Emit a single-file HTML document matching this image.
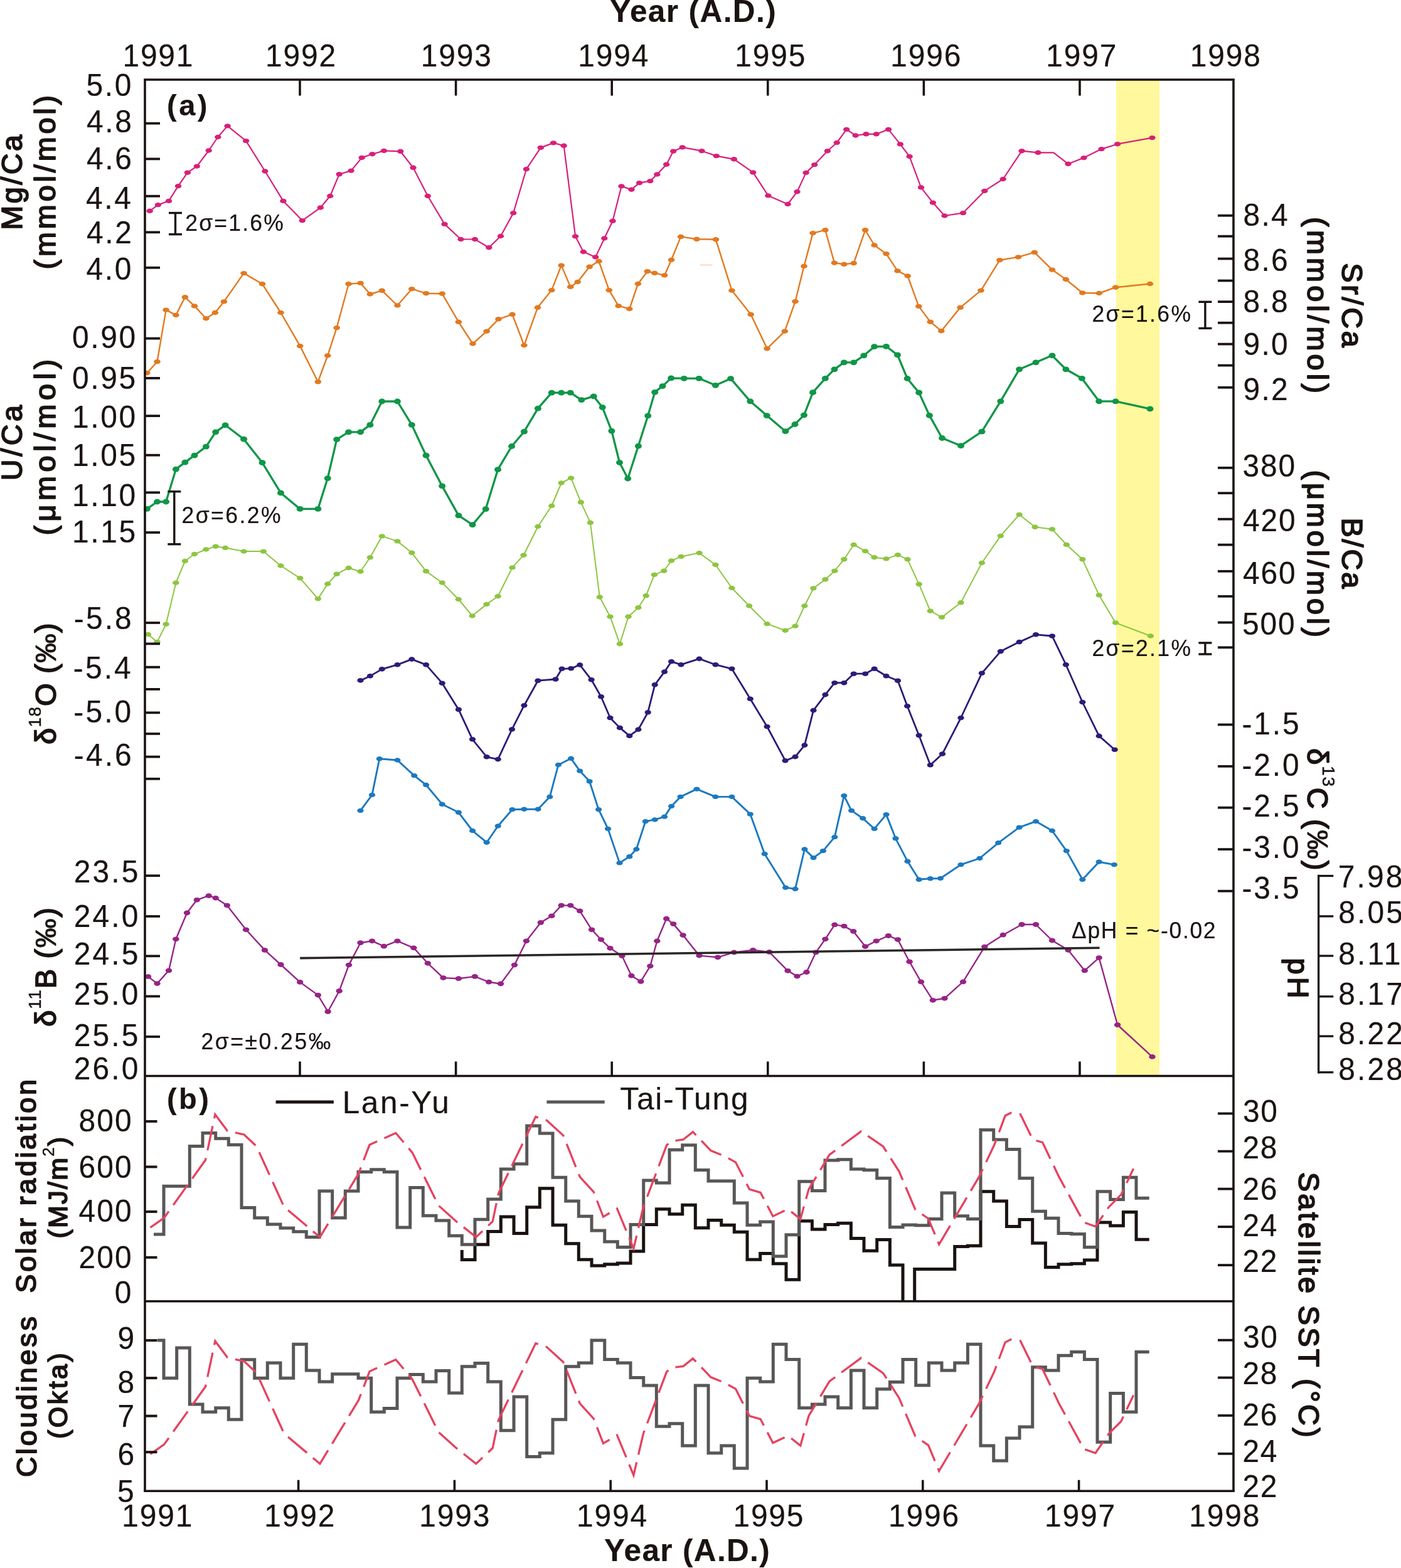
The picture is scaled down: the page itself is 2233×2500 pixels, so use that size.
<!DOCTYPE html>
<html lang="en"><head><meta charset="utf-8"><title>Coral geochemical records and climate data, 1991-1998</title>
<style>html,body{margin:0;padding:0;background:#fff}body{width:2233px;height:2500px;overflow:hidden}svg{display:block}text{font-family:"Liberation Sans",sans-serif;white-space:pre}</style>
</head><body>
<svg width="2233" height="2500" viewBox="0 0 2233 2500" role="img" aria-label="Coral geochemical proxies and climate records 1991-1998">
<rect x="0" y="0" width="2233" height="2500" fill="#fff"/>
<rect x="1779" y="127" width="69" height="1588.5" fill="#fff89c"/>
<g id="series" fill="none" stroke-linejoin="round" stroke-linecap="round">
<line x1="1116" y1="422.6" x2="1135" y2="422.6" stroke="#f6cdb0" stroke-width="1.5"/>
<polyline points="238.7,336.3 251.9,326.6 269,320.4 284,296.7 298.9,275.2 313.8,265.1 332.7,240 347.3,218.5 362.6,200.9 392.1,224.6 422.4,273 451.4,320.4 481.8,351.6 510.8,331 526.2,312.5 540.7,277.8 559.6,272.1 576.7,251.4 593.4,245.7 611.9,240.4 638.2,241.3 658.5,267.3 681.8,312.5 708.6,357.4 734.5,381.5 756.9,381.5 779.3,394.7 798,376.5 818.2,339.6 838.9,269.7 861.8,235.4 882,227.9 898.7,232.3 917.1,376.9 929.9,401.5 949.2,409.9 963.3,380 976.5,352.3 990.5,296.9 1006.4,302.2 1019.1,291.6 1036.3,288.6 1047.3,278 1062.2,262.2 1073.2,241.1 1087.7,234.9 1118.5,240.7 1141.8,248.6 1169.9,253.8 1200.2,274.9 1224.4,311.9 1255.6,325.5 1270.5,305.7 1284.6,275.4 1298.2,262.6 1318.9,240.7 1333.8,227.5 1349.2,206.4 1363.7,216 1380.4,213.8 1396.7,213.8 1416,206.4 1434.9,229.9 1449.6,249.5 1468,298.9 1486.9,323.1 1505.5,344 1535,339.6 1569.3,304.4 1598.7,285.5 1628.6,240.7 1654.5,243.3 1679.2,243.3 1702.5,261.3 1727.5,251.6 1755.6,237.6 1781.1,229.7 1836.5,219.6" stroke="#d81f7a" stroke-width="2.2"/>
<g fill="#d81f7a" stroke="none">
<ellipse cx="238.7" cy="336.3" rx="5.2" ry="3.7"/>
<ellipse cx="251.9" cy="326.6" rx="5.2" ry="3.7"/>
<ellipse cx="269" cy="320.4" rx="5.2" ry="3.7"/>
<ellipse cx="284" cy="296.7" rx="5.2" ry="3.7"/>
<ellipse cx="298.9" cy="275.2" rx="5.2" ry="3.7"/>
<ellipse cx="313.8" cy="265.1" rx="5.2" ry="3.7"/>
<ellipse cx="332.7" cy="240" rx="5.2" ry="3.7"/>
<ellipse cx="347.3" cy="218.5" rx="5.2" ry="3.7"/>
<ellipse cx="362.6" cy="200.9" rx="5.2" ry="3.7"/>
<ellipse cx="392.1" cy="224.6" rx="5.2" ry="3.7"/>
<ellipse cx="422.4" cy="273" rx="5.2" ry="3.7"/>
<ellipse cx="451.4" cy="320.4" rx="5.2" ry="3.7"/>
<ellipse cx="481.8" cy="351.6" rx="5.2" ry="3.7"/>
<ellipse cx="510.8" cy="331" rx="5.2" ry="3.7"/>
<ellipse cx="526.2" cy="312.5" rx="5.2" ry="3.7"/>
<ellipse cx="540.7" cy="277.8" rx="5.2" ry="3.7"/>
<ellipse cx="559.6" cy="272.1" rx="5.2" ry="3.7"/>
<ellipse cx="576.7" cy="251.4" rx="5.2" ry="3.7"/>
<ellipse cx="593.4" cy="245.7" rx="5.2" ry="3.7"/>
<ellipse cx="611.9" cy="240.4" rx="5.2" ry="3.7"/>
<ellipse cx="638.2" cy="241.3" rx="5.2" ry="3.7"/>
<ellipse cx="658.5" cy="267.3" rx="5.2" ry="3.7"/>
<ellipse cx="681.8" cy="312.5" rx="5.2" ry="3.7"/>
<ellipse cx="708.6" cy="357.4" rx="5.2" ry="3.7"/>
<ellipse cx="734.5" cy="381.5" rx="5.2" ry="3.7"/>
<ellipse cx="756.9" cy="381.5" rx="5.2" ry="3.7"/>
<ellipse cx="779.3" cy="394.7" rx="5.2" ry="3.7"/>
<ellipse cx="798" cy="376.5" rx="5.2" ry="3.7"/>
<ellipse cx="818.2" cy="339.6" rx="5.2" ry="3.7"/>
<ellipse cx="838.9" cy="269.7" rx="5.2" ry="3.7"/>
<ellipse cx="861.8" cy="235.4" rx="5.2" ry="3.7"/>
<ellipse cx="882" cy="227.9" rx="5.2" ry="3.7"/>
<ellipse cx="898.7" cy="232.3" rx="5.2" ry="3.7"/>
<ellipse cx="917.1" cy="376.9" rx="5.2" ry="3.7"/>
<ellipse cx="929.9" cy="401.5" rx="5.2" ry="3.7"/>
<ellipse cx="949.2" cy="409.9" rx="5.2" ry="3.7"/>
<ellipse cx="963.3" cy="380" rx="5.2" ry="3.7"/>
<ellipse cx="976.5" cy="352.3" rx="5.2" ry="3.7"/>
<ellipse cx="990.5" cy="296.9" rx="5.2" ry="3.7"/>
<ellipse cx="1006.4" cy="302.2" rx="5.2" ry="3.7"/>
<ellipse cx="1019.1" cy="291.6" rx="5.2" ry="3.7"/>
<ellipse cx="1036.3" cy="288.6" rx="5.2" ry="3.7"/>
<ellipse cx="1047.3" cy="278" rx="5.2" ry="3.7"/>
<ellipse cx="1062.2" cy="262.2" rx="5.2" ry="3.7"/>
<ellipse cx="1073.2" cy="241.1" rx="5.2" ry="3.7"/>
<ellipse cx="1087.7" cy="234.9" rx="5.2" ry="3.7"/>
<ellipse cx="1118.5" cy="240.7" rx="5.2" ry="3.7"/>
<ellipse cx="1141.8" cy="248.6" rx="5.2" ry="3.7"/>
<ellipse cx="1169.9" cy="253.8" rx="5.2" ry="3.7"/>
<ellipse cx="1200.2" cy="274.9" rx="5.2" ry="3.7"/>
<ellipse cx="1224.4" cy="311.9" rx="5.2" ry="3.7"/>
<ellipse cx="1255.6" cy="325.5" rx="5.2" ry="3.7"/>
<ellipse cx="1270.5" cy="305.7" rx="5.2" ry="3.7"/>
<ellipse cx="1284.6" cy="275.4" rx="5.2" ry="3.7"/>
<ellipse cx="1298.2" cy="262.6" rx="5.2" ry="3.7"/>
<ellipse cx="1318.9" cy="240.7" rx="5.2" ry="3.7"/>
<ellipse cx="1333.8" cy="227.5" rx="5.2" ry="3.7"/>
<ellipse cx="1349.2" cy="206.4" rx="5.2" ry="3.7"/>
<ellipse cx="1363.7" cy="216" rx="5.2" ry="3.7"/>
<ellipse cx="1380.4" cy="213.8" rx="5.2" ry="3.7"/>
<ellipse cx="1396.7" cy="213.8" rx="5.2" ry="3.7"/>
<ellipse cx="1416" cy="206.4" rx="5.2" ry="3.7"/>
<ellipse cx="1434.9" cy="229.9" rx="5.2" ry="3.7"/>
<ellipse cx="1449.6" cy="249.5" rx="5.2" ry="3.7"/>
<ellipse cx="1468" cy="298.9" rx="5.2" ry="3.7"/>
<ellipse cx="1486.9" cy="323.1" rx="5.2" ry="3.7"/>
<ellipse cx="1505.5" cy="344" rx="5.2" ry="3.7"/>
<ellipse cx="1535" cy="339.6" rx="5.2" ry="3.7"/>
<ellipse cx="1569.3" cy="304.4" rx="5.2" ry="3.7"/>
<ellipse cx="1598.7" cy="285.5" rx="5.2" ry="3.7"/>
<ellipse cx="1628.6" cy="240.7" rx="5.2" ry="3.7"/>
<ellipse cx="1654.5" cy="243.3" rx="5.2" ry="3.7"/>
<ellipse cx="1702.5" cy="261.3" rx="5.2" ry="3.7"/>
<ellipse cx="1727.5" cy="251.6" rx="5.2" ry="3.7"/>
<ellipse cx="1755.6" cy="237.6" rx="5.2" ry="3.7"/>
<ellipse cx="1781.1" cy="229.7" rx="5.2" ry="3.7"/>
<ellipse cx="1836.5" cy="219.6" rx="5.2" ry="3.7"/>
</g>
<polyline points="234.3,594.7 250.5,576.7 264.6,494.1 280.4,502.4 294.9,473.8 309.9,487.9 328.4,507.7 342.9,498.5 356.9,480.9 388.6,435.6 418,452.7 447.5,498.5 478.2,551.6 506.8,608.8 522.2,567 536.7,522.6 555.6,452.7 574.5,451.4 589.9,469 608.8,463.3 633.4,487 656.3,460.7 679.1,467.7 704.7,468.2 730.9,513.3 753.5,548 775.7,528.2 794.5,508.8 816.5,501.3 835.4,550.5 856.9,490.3 879.3,462.6 894.7,423.1 909.2,457.4 920.7,449.5 939.6,425.3 954.5,416.5 970.8,462.6 985.7,487.7 1003.3,492.5 1016.9,452.5 1031.9,432.7 1043.3,435.4 1059.1,438.9 1070.1,414.3 1085.1,377.4 1110.5,381.3 1140.9,381.8 1166.4,463.1 1196.7,501.3 1222.6,555.8 1250.8,528.1 1267.5,480.7 1281.5,424.4 1295.6,371.6 1315.4,366.8 1329.9,419.1 1345.3,421.3 1360.7,419.6 1379.1,366.8 1393.6,391 1412.5,404.6 1430.5,431.9 1446.7,440 1464.3,488.4 1482.8,513.2 1500.3,527.7 1530.6,490.3 1563.5,463.1 1593.4,414.7 1622.9,409.9 1648.8,402.4 1677,430.1 1698.9,445.5 1725.3,467 1751.7,467.5 1778.1,458.2 1833,452.5" stroke="#e2791f" stroke-width="2.4"/>
<g fill="#e2791f" stroke="none">
<ellipse cx="234.3" cy="594.7" rx="5.3" ry="3.7"/>
<ellipse cx="250.5" cy="576.7" rx="5.3" ry="3.7"/>
<ellipse cx="264.6" cy="494.1" rx="5.3" ry="3.7"/>
<ellipse cx="280.4" cy="502.4" rx="5.3" ry="3.7"/>
<ellipse cx="294.9" cy="473.8" rx="5.3" ry="3.7"/>
<ellipse cx="309.9" cy="487.9" rx="5.3" ry="3.7"/>
<ellipse cx="328.4" cy="507.7" rx="5.3" ry="3.7"/>
<ellipse cx="342.9" cy="498.5" rx="5.3" ry="3.7"/>
<ellipse cx="356.9" cy="480.9" rx="5.3" ry="3.7"/>
<ellipse cx="388.6" cy="435.6" rx="5.3" ry="3.7"/>
<ellipse cx="418" cy="452.7" rx="5.3" ry="3.7"/>
<ellipse cx="447.5" cy="498.5" rx="5.3" ry="3.7"/>
<ellipse cx="478.2" cy="551.6" rx="5.3" ry="3.7"/>
<ellipse cx="506.8" cy="608.8" rx="5.3" ry="3.7"/>
<ellipse cx="522.2" cy="567" rx="5.3" ry="3.7"/>
<ellipse cx="536.7" cy="522.6" rx="5.3" ry="3.7"/>
<ellipse cx="555.6" cy="452.7" rx="5.3" ry="3.7"/>
<ellipse cx="574.5" cy="451.4" rx="5.3" ry="3.7"/>
<ellipse cx="589.9" cy="469" rx="5.3" ry="3.7"/>
<ellipse cx="608.8" cy="463.3" rx="5.3" ry="3.7"/>
<ellipse cx="633.4" cy="487" rx="5.3" ry="3.7"/>
<ellipse cx="656.3" cy="460.7" rx="5.3" ry="3.7"/>
<ellipse cx="679.1" cy="467.7" rx="5.3" ry="3.7"/>
<ellipse cx="704.7" cy="468.2" rx="5.3" ry="3.7"/>
<ellipse cx="730.9" cy="513.3" rx="5.3" ry="3.7"/>
<ellipse cx="753.5" cy="548" rx="5.3" ry="3.7"/>
<ellipse cx="775.7" cy="528.2" rx="5.3" ry="3.7"/>
<ellipse cx="794.5" cy="508.8" rx="5.3" ry="3.7"/>
<ellipse cx="816.5" cy="501.3" rx="5.3" ry="3.7"/>
<ellipse cx="835.4" cy="550.5" rx="5.3" ry="3.7"/>
<ellipse cx="856.9" cy="490.3" rx="5.3" ry="3.7"/>
<ellipse cx="879.3" cy="462.6" rx="5.3" ry="3.7"/>
<ellipse cx="894.7" cy="423.1" rx="5.3" ry="3.7"/>
<ellipse cx="909.2" cy="457.4" rx="5.3" ry="3.7"/>
<ellipse cx="920.7" cy="449.5" rx="5.3" ry="3.7"/>
<ellipse cx="939.6" cy="425.3" rx="5.3" ry="3.7"/>
<ellipse cx="954.5" cy="416.5" rx="5.3" ry="3.7"/>
<ellipse cx="970.8" cy="462.6" rx="5.3" ry="3.7"/>
<ellipse cx="985.7" cy="487.7" rx="5.3" ry="3.7"/>
<ellipse cx="1003.3" cy="492.5" rx="5.3" ry="3.7"/>
<ellipse cx="1016.9" cy="452.5" rx="5.3" ry="3.7"/>
<ellipse cx="1031.9" cy="432.7" rx="5.3" ry="3.7"/>
<ellipse cx="1043.3" cy="435.4" rx="5.3" ry="3.7"/>
<ellipse cx="1059.1" cy="438.9" rx="5.3" ry="3.7"/>
<ellipse cx="1070.1" cy="414.3" rx="5.3" ry="3.7"/>
<ellipse cx="1085.1" cy="377.4" rx="5.3" ry="3.7"/>
<ellipse cx="1110.5" cy="381.3" rx="5.3" ry="3.7"/>
<ellipse cx="1140.9" cy="381.8" rx="5.3" ry="3.7"/>
<ellipse cx="1166.4" cy="463.1" rx="5.3" ry="3.7"/>
<ellipse cx="1196.7" cy="501.3" rx="5.3" ry="3.7"/>
<ellipse cx="1222.6" cy="555.8" rx="5.3" ry="3.7"/>
<ellipse cx="1250.8" cy="528.1" rx="5.3" ry="3.7"/>
<ellipse cx="1267.5" cy="480.7" rx="5.3" ry="3.7"/>
<ellipse cx="1281.5" cy="424.4" rx="5.3" ry="3.7"/>
<ellipse cx="1295.6" cy="371.6" rx="5.3" ry="3.7"/>
<ellipse cx="1315.4" cy="366.8" rx="5.3" ry="3.7"/>
<ellipse cx="1329.9" cy="419.1" rx="5.3" ry="3.7"/>
<ellipse cx="1345.3" cy="421.3" rx="5.3" ry="3.7"/>
<ellipse cx="1360.7" cy="419.6" rx="5.3" ry="3.7"/>
<ellipse cx="1379.1" cy="366.8" rx="5.3" ry="3.7"/>
<ellipse cx="1393.6" cy="391" rx="5.3" ry="3.7"/>
<ellipse cx="1412.5" cy="404.6" rx="5.3" ry="3.7"/>
<ellipse cx="1430.5" cy="431.9" rx="5.3" ry="3.7"/>
<ellipse cx="1446.7" cy="440" rx="5.3" ry="3.7"/>
<ellipse cx="1464.3" cy="488.4" rx="5.3" ry="3.7"/>
<ellipse cx="1482.8" cy="513.2" rx="5.3" ry="3.7"/>
<ellipse cx="1500.3" cy="527.7" rx="5.3" ry="3.7"/>
<ellipse cx="1530.6" cy="490.3" rx="5.3" ry="3.7"/>
<ellipse cx="1563.5" cy="463.1" rx="5.3" ry="3.7"/>
<ellipse cx="1593.4" cy="414.7" rx="5.3" ry="3.7"/>
<ellipse cx="1622.9" cy="409.9" rx="5.3" ry="3.7"/>
<ellipse cx="1648.8" cy="402.4" rx="5.3" ry="3.7"/>
<ellipse cx="1677" cy="430.1" rx="5.3" ry="3.7"/>
<ellipse cx="1698.9" cy="445.5" rx="5.3" ry="3.7"/>
<ellipse cx="1725.3" cy="467" rx="5.3" ry="3.7"/>
<ellipse cx="1751.7" cy="467.5" rx="5.3" ry="3.7"/>
<ellipse cx="1778.1" cy="458.2" rx="5.3" ry="3.7"/>
<ellipse cx="1833" cy="452.5" rx="5.3" ry="3.7"/>
</g>
<polyline points="234.3,811.4 250.5,800 264.6,800 280.4,748.1 294.9,737.1 309.9,726.2 328.4,712.1 343.7,688.8 359.1,677.8 388.6,700.2 418,737.6 447.5,785.9 478.2,811.4 506.8,811.4 522.2,762.6 536.7,700.7 555.6,688.8 574.5,688.8 589.9,677.4 608.8,640 633.4,640 656.3,677.4 679.1,726.2 704.7,774.9 730.9,821.9 753.1,836.6 774.2,811.6 793.5,748.7 815.6,711.5 835.4,688.2 857.4,651.2 879.3,626.2 894.7,626.2 909.2,626.2 926.8,637.6 946.2,631.9 960.2,649.5 974.9,687.1 987.5,737.5 1000.7,763 1017.4,711.1 1032.7,662.9 1043.7,625.3 1056,615.6 1069.7,602.9 1090.3,603.3 1114.1,603.3 1140.4,614.3 1164.6,603.7 1195.8,639.8 1222.2,662.6 1251.9,687.7 1267,676.5 1281.5,661.8 1295.6,625.7 1315.4,603.3 1329.9,588.8 1345.3,577.8 1360.7,577.8 1376.9,566.8 1393.6,552.7 1412.5,552.3 1430.5,565.9 1446.1,603.5 1464.7,625.9 1481.4,662.4 1501.6,698.5 1531.5,710.7 1564.9,688.2 1594.8,639.8 1624.6,588.8 1651,577.8 1677,566.8 1698.9,588.8 1724.4,603.3 1751.7,639.8 1778.1,639.8 1833,651.9" stroke="#0f9647" stroke-width="3.3"/>
<g fill="#0f9647" stroke="none">
<ellipse cx="234.3" cy="811.4" rx="5.5" ry="4.4"/>
<ellipse cx="250.5" cy="800" rx="5.5" ry="4.4"/>
<ellipse cx="264.6" cy="800" rx="5.5" ry="4.4"/>
<ellipse cx="280.4" cy="748.1" rx="5.5" ry="4.4"/>
<ellipse cx="294.9" cy="737.1" rx="5.5" ry="4.4"/>
<ellipse cx="309.9" cy="726.2" rx="5.5" ry="4.4"/>
<ellipse cx="328.4" cy="712.1" rx="5.5" ry="4.4"/>
<ellipse cx="343.7" cy="688.8" rx="5.5" ry="4.4"/>
<ellipse cx="359.1" cy="677.8" rx="5.5" ry="4.4"/>
<ellipse cx="388.6" cy="700.2" rx="5.5" ry="4.4"/>
<ellipse cx="418" cy="737.6" rx="5.5" ry="4.4"/>
<ellipse cx="447.5" cy="785.9" rx="5.5" ry="4.4"/>
<ellipse cx="478.2" cy="811.4" rx="5.5" ry="4.4"/>
<ellipse cx="506.8" cy="811.4" rx="5.5" ry="4.4"/>
<ellipse cx="522.2" cy="762.6" rx="5.5" ry="4.4"/>
<ellipse cx="536.7" cy="700.7" rx="5.5" ry="4.4"/>
<ellipse cx="555.6" cy="688.8" rx="5.5" ry="4.4"/>
<ellipse cx="574.5" cy="688.8" rx="5.5" ry="4.4"/>
<ellipse cx="589.9" cy="677.4" rx="5.5" ry="4.4"/>
<ellipse cx="608.8" cy="640" rx="5.5" ry="4.4"/>
<ellipse cx="633.4" cy="640" rx="5.5" ry="4.4"/>
<ellipse cx="656.3" cy="677.4" rx="5.5" ry="4.4"/>
<ellipse cx="679.1" cy="726.2" rx="5.5" ry="4.4"/>
<ellipse cx="704.7" cy="774.9" rx="5.5" ry="4.4"/>
<ellipse cx="730.9" cy="821.9" rx="5.5" ry="4.4"/>
<ellipse cx="753.1" cy="836.6" rx="5.5" ry="4.4"/>
<ellipse cx="774.2" cy="811.6" rx="5.5" ry="4.4"/>
<ellipse cx="793.5" cy="748.7" rx="5.5" ry="4.4"/>
<ellipse cx="815.6" cy="711.5" rx="5.5" ry="4.4"/>
<ellipse cx="835.4" cy="688.2" rx="5.5" ry="4.4"/>
<ellipse cx="857.4" cy="651.2" rx="5.5" ry="4.4"/>
<ellipse cx="879.3" cy="626.2" rx="5.5" ry="4.4"/>
<ellipse cx="894.7" cy="626.2" rx="5.5" ry="4.4"/>
<ellipse cx="909.2" cy="626.2" rx="5.5" ry="4.4"/>
<ellipse cx="926.8" cy="637.6" rx="5.5" ry="4.4"/>
<ellipse cx="946.2" cy="631.9" rx="5.5" ry="4.4"/>
<ellipse cx="960.2" cy="649.5" rx="5.5" ry="4.4"/>
<ellipse cx="974.9" cy="687.1" rx="5.5" ry="4.4"/>
<ellipse cx="987.5" cy="737.5" rx="5.5" ry="4.4"/>
<ellipse cx="1000.7" cy="763" rx="5.5" ry="4.4"/>
<ellipse cx="1017.4" cy="711.1" rx="5.5" ry="4.4"/>
<ellipse cx="1032.7" cy="662.9" rx="5.5" ry="4.4"/>
<ellipse cx="1043.7" cy="625.3" rx="5.5" ry="4.4"/>
<ellipse cx="1056" cy="615.6" rx="5.5" ry="4.4"/>
<ellipse cx="1069.7" cy="602.9" rx="5.5" ry="4.4"/>
<ellipse cx="1090.3" cy="603.3" rx="5.5" ry="4.4"/>
<ellipse cx="1114.1" cy="603.3" rx="5.5" ry="4.4"/>
<ellipse cx="1140.4" cy="614.3" rx="5.5" ry="4.4"/>
<ellipse cx="1164.6" cy="603.7" rx="5.5" ry="4.4"/>
<ellipse cx="1195.8" cy="639.8" rx="5.5" ry="4.4"/>
<ellipse cx="1222.2" cy="662.6" rx="5.5" ry="4.4"/>
<ellipse cx="1251.9" cy="687.7" rx="5.5" ry="4.4"/>
<ellipse cx="1267" cy="676.5" rx="5.5" ry="4.4"/>
<ellipse cx="1281.5" cy="661.8" rx="5.5" ry="4.4"/>
<ellipse cx="1295.6" cy="625.7" rx="5.5" ry="4.4"/>
<ellipse cx="1315.4" cy="603.3" rx="5.5" ry="4.4"/>
<ellipse cx="1329.9" cy="588.8" rx="5.5" ry="4.4"/>
<ellipse cx="1345.3" cy="577.8" rx="5.5" ry="4.4"/>
<ellipse cx="1360.7" cy="577.8" rx="5.5" ry="4.4"/>
<ellipse cx="1376.9" cy="566.8" rx="5.5" ry="4.4"/>
<ellipse cx="1393.6" cy="552.7" rx="5.5" ry="4.4"/>
<ellipse cx="1412.5" cy="552.3" rx="5.5" ry="4.4"/>
<ellipse cx="1430.5" cy="565.9" rx="5.5" ry="4.4"/>
<ellipse cx="1446.1" cy="603.5" rx="5.5" ry="4.4"/>
<ellipse cx="1464.7" cy="625.9" rx="5.5" ry="4.4"/>
<ellipse cx="1481.4" cy="662.4" rx="5.5" ry="4.4"/>
<ellipse cx="1501.6" cy="698.5" rx="5.5" ry="4.4"/>
<ellipse cx="1531.5" cy="710.7" rx="5.5" ry="4.4"/>
<ellipse cx="1564.9" cy="688.2" rx="5.5" ry="4.4"/>
<ellipse cx="1594.8" cy="639.8" rx="5.5" ry="4.4"/>
<ellipse cx="1624.6" cy="588.8" rx="5.5" ry="4.4"/>
<ellipse cx="1651" cy="577.8" rx="5.5" ry="4.4"/>
<ellipse cx="1677" cy="566.8" rx="5.5" ry="4.4"/>
<ellipse cx="1698.9" cy="588.8" rx="5.5" ry="4.4"/>
<ellipse cx="1724.4" cy="603.3" rx="5.5" ry="4.4"/>
<ellipse cx="1751.7" cy="639.8" rx="5.5" ry="4.4"/>
<ellipse cx="1778.1" cy="639.8" rx="5.5" ry="4.4"/>
<ellipse cx="1833" cy="651.9" rx="5.5" ry="4.4"/>
</g>
<polyline points="236,1011.5 250.5,1023.4 264.6,995.2 280.4,929.2 294.9,894.5 309.9,883.5 328.4,876 343.7,871.2 359.1,873.4 388.6,879.1 419.8,879.1 447.5,902 478.2,921.8 506.8,954.7 522.2,931 536.7,915.2 555.6,905.5 574.5,911.2 589.9,888.8 608.8,854.9 633.4,862.9 656.3,881.3 679.1,910.8 704.7,929 730.8,955.5 752.7,981.9 775.6,963.4 793.6,950.7 816.5,904.9 834.5,885.2 857.4,839.5 879.3,806.5 894.7,770 910.1,762.1 925.9,800.8 940.9,833.3 955.8,952 972.5,983.2 987.9,1026.7 1001.5,983.2 1017.4,968.7 1029.7,949.8 1042.9,916.4 1058.2,910.2 1070.1,894 1085.5,887.4 1114.5,881.6 1140.4,900.5 1166.4,937.5 1194.1,966 1222.6,994.6 1251.6,1005.2 1267.5,998.1 1282.4,966 1296.5,937.9 1315.4,923.8 1330.3,910.2 1345.3,891.8 1360.7,868.5 1379.1,878.6 1393.6,888.7 1412.5,890.9 1431,884.7 1446.5,891.8 1464.7,931.3 1482.8,974.2 1501.1,984.1 1531.5,960.8 1564.9,897.5 1594.8,854.4 1624.6,820.5 1649.7,840.3 1677,843.8 1699.8,868.5 1725.3,891.8 1751.7,948.9 1778.1,992.9 1833.9,1014" stroke="#8cc540" stroke-width="2.0"/>
<g fill="#8cc540" stroke="none">
<ellipse cx="236" cy="1011.5" rx="5.2" ry="3.7"/>
<ellipse cx="250.5" cy="1023.4" rx="5.2" ry="3.7"/>
<ellipse cx="264.6" cy="995.2" rx="5.2" ry="3.7"/>
<ellipse cx="280.4" cy="929.2" rx="5.2" ry="3.7"/>
<ellipse cx="294.9" cy="894.5" rx="5.2" ry="3.7"/>
<ellipse cx="309.9" cy="883.5" rx="5.2" ry="3.7"/>
<ellipse cx="328.4" cy="876" rx="5.2" ry="3.7"/>
<ellipse cx="343.7" cy="871.2" rx="5.2" ry="3.7"/>
<ellipse cx="359.1" cy="873.4" rx="5.2" ry="3.7"/>
<ellipse cx="388.6" cy="879.1" rx="5.2" ry="3.7"/>
<ellipse cx="419.8" cy="879.1" rx="5.2" ry="3.7"/>
<ellipse cx="447.5" cy="902" rx="5.2" ry="3.7"/>
<ellipse cx="478.2" cy="921.8" rx="5.2" ry="3.7"/>
<ellipse cx="506.8" cy="954.7" rx="5.2" ry="3.7"/>
<ellipse cx="522.2" cy="931" rx="5.2" ry="3.7"/>
<ellipse cx="536.7" cy="915.2" rx="5.2" ry="3.7"/>
<ellipse cx="555.6" cy="905.5" rx="5.2" ry="3.7"/>
<ellipse cx="574.5" cy="911.2" rx="5.2" ry="3.7"/>
<ellipse cx="589.9" cy="888.8" rx="5.2" ry="3.7"/>
<ellipse cx="608.8" cy="854.9" rx="5.2" ry="3.7"/>
<ellipse cx="633.4" cy="862.9" rx="5.2" ry="3.7"/>
<ellipse cx="656.3" cy="881.3" rx="5.2" ry="3.7"/>
<ellipse cx="679.1" cy="910.8" rx="5.2" ry="3.7"/>
<ellipse cx="704.7" cy="929" rx="5.2" ry="3.7"/>
<ellipse cx="730.8" cy="955.5" rx="5.2" ry="3.7"/>
<ellipse cx="752.7" cy="981.9" rx="5.2" ry="3.7"/>
<ellipse cx="775.6" cy="963.4" rx="5.2" ry="3.7"/>
<ellipse cx="793.6" cy="950.7" rx="5.2" ry="3.7"/>
<ellipse cx="816.5" cy="904.9" rx="5.2" ry="3.7"/>
<ellipse cx="834.5" cy="885.2" rx="5.2" ry="3.7"/>
<ellipse cx="857.4" cy="839.5" rx="5.2" ry="3.7"/>
<ellipse cx="879.3" cy="806.5" rx="5.2" ry="3.7"/>
<ellipse cx="894.7" cy="770" rx="5.2" ry="3.7"/>
<ellipse cx="910.1" cy="762.1" rx="5.2" ry="3.7"/>
<ellipse cx="925.9" cy="800.8" rx="5.2" ry="3.7"/>
<ellipse cx="940.9" cy="833.3" rx="5.2" ry="3.7"/>
<ellipse cx="955.8" cy="952" rx="5.2" ry="3.7"/>
<ellipse cx="972.5" cy="983.2" rx="5.2" ry="3.7"/>
<ellipse cx="987.9" cy="1026.7" rx="5.2" ry="3.7"/>
<ellipse cx="1001.5" cy="983.2" rx="5.2" ry="3.7"/>
<ellipse cx="1017.4" cy="968.7" rx="5.2" ry="3.7"/>
<ellipse cx="1029.7" cy="949.8" rx="5.2" ry="3.7"/>
<ellipse cx="1042.9" cy="916.4" rx="5.2" ry="3.7"/>
<ellipse cx="1058.2" cy="910.2" rx="5.2" ry="3.7"/>
<ellipse cx="1070.1" cy="894" rx="5.2" ry="3.7"/>
<ellipse cx="1085.5" cy="887.4" rx="5.2" ry="3.7"/>
<ellipse cx="1114.5" cy="881.6" rx="5.2" ry="3.7"/>
<ellipse cx="1140.4" cy="900.5" rx="5.2" ry="3.7"/>
<ellipse cx="1166.4" cy="937.5" rx="5.2" ry="3.7"/>
<ellipse cx="1194.1" cy="966" rx="5.2" ry="3.7"/>
<ellipse cx="1222.6" cy="994.6" rx="5.2" ry="3.7"/>
<ellipse cx="1251.6" cy="1005.2" rx="5.2" ry="3.7"/>
<ellipse cx="1267.5" cy="998.1" rx="5.2" ry="3.7"/>
<ellipse cx="1282.4" cy="966" rx="5.2" ry="3.7"/>
<ellipse cx="1296.5" cy="937.9" rx="5.2" ry="3.7"/>
<ellipse cx="1315.4" cy="923.8" rx="5.2" ry="3.7"/>
<ellipse cx="1330.3" cy="910.2" rx="5.2" ry="3.7"/>
<ellipse cx="1345.3" cy="891.8" rx="5.2" ry="3.7"/>
<ellipse cx="1360.7" cy="868.5" rx="5.2" ry="3.7"/>
<ellipse cx="1379.1" cy="878.6" rx="5.2" ry="3.7"/>
<ellipse cx="1393.6" cy="888.7" rx="5.2" ry="3.7"/>
<ellipse cx="1412.5" cy="890.9" rx="5.2" ry="3.7"/>
<ellipse cx="1431" cy="884.7" rx="5.2" ry="3.7"/>
<ellipse cx="1446.5" cy="891.8" rx="5.2" ry="3.7"/>
<ellipse cx="1464.7" cy="931.3" rx="5.2" ry="3.7"/>
<ellipse cx="1482.8" cy="974.2" rx="5.2" ry="3.7"/>
<ellipse cx="1501.1" cy="984.1" rx="5.2" ry="3.7"/>
<ellipse cx="1531.5" cy="960.8" rx="5.2" ry="3.7"/>
<ellipse cx="1564.9" cy="897.5" rx="5.2" ry="3.7"/>
<ellipse cx="1594.8" cy="854.4" rx="5.2" ry="3.7"/>
<ellipse cx="1624.6" cy="820.5" rx="5.2" ry="3.7"/>
<ellipse cx="1649.7" cy="840.3" rx="5.2" ry="3.7"/>
<ellipse cx="1677" cy="843.8" rx="5.2" ry="3.7"/>
<ellipse cx="1699.8" cy="868.5" rx="5.2" ry="3.7"/>
<ellipse cx="1725.3" cy="891.8" rx="5.2" ry="3.7"/>
<ellipse cx="1751.7" cy="948.9" rx="5.2" ry="3.7"/>
<ellipse cx="1778.1" cy="992.9" rx="5.2" ry="3.7"/>
<ellipse cx="1833.9" cy="1014" rx="5.2" ry="3.7"/>
</g>
<polyline points="574.5,1084.9 589.9,1077.9 608.8,1066.9 633.4,1059.9 656.3,1051.1 679.1,1059.9 704.7,1089.2 730.9,1131.2 753,1178.8 775.7,1206.8 793.7,1210.6 816,1162.9 835.4,1124.7 857.4,1085.2 885.5,1083 895.6,1066.3 910.1,1065.8 924.2,1060.1 942.6,1083.8 958,1110.7 972.5,1144.5 987.9,1160.4 1003.3,1173.2 1017.4,1163.1 1032.7,1135.7 1043.7,1091.8 1059.1,1071.1 1070.1,1054.8 1085.5,1059.7 1114.5,1050.4 1140.4,1059.7 1166.4,1066.3 1195.8,1114.2 1222.6,1158.5 1251.6,1212.7 1267.5,1206.6 1282.4,1188.1 1296.5,1132.6 1315.4,1107.6 1330.3,1088.7 1345.3,1088.7 1360.7,1074.2 1379.1,1074.2 1393.6,1066.3 1412.5,1077.7 1431,1085.2 1446.1,1125.8 1464.7,1172.5 1482.8,1219.8 1502,1202 1531.5,1144.5 1564.9,1073.3 1594.8,1038.6 1624.6,1023.6 1651,1011.8 1677,1014 1698.9,1059.7 1725.3,1119.5 1751.7,1173.4 1776.7,1195.2" stroke="#2d1b78" stroke-width="2.8"/>
<g fill="#2d1b78" stroke="none">
<ellipse cx="574.5" cy="1084.9" rx="5.1" ry="3.8"/>
<ellipse cx="589.9" cy="1077.9" rx="5.1" ry="3.8"/>
<ellipse cx="608.8" cy="1066.9" rx="5.1" ry="3.8"/>
<ellipse cx="633.4" cy="1059.9" rx="5.1" ry="3.8"/>
<ellipse cx="656.3" cy="1051.1" rx="5.1" ry="3.8"/>
<ellipse cx="679.1" cy="1059.9" rx="5.1" ry="3.8"/>
<ellipse cx="704.7" cy="1089.2" rx="5.1" ry="3.8"/>
<ellipse cx="730.9" cy="1131.2" rx="5.1" ry="3.8"/>
<ellipse cx="753" cy="1178.8" rx="5.1" ry="3.8"/>
<ellipse cx="775.7" cy="1206.8" rx="5.1" ry="3.8"/>
<ellipse cx="793.7" cy="1210.6" rx="5.1" ry="3.8"/>
<ellipse cx="816" cy="1162.9" rx="5.1" ry="3.8"/>
<ellipse cx="835.4" cy="1124.7" rx="5.1" ry="3.8"/>
<ellipse cx="857.4" cy="1085.2" rx="5.1" ry="3.8"/>
<ellipse cx="885.5" cy="1083" rx="5.1" ry="3.8"/>
<ellipse cx="895.6" cy="1066.3" rx="5.1" ry="3.8"/>
<ellipse cx="910.1" cy="1065.8" rx="5.1" ry="3.8"/>
<ellipse cx="924.2" cy="1060.1" rx="5.1" ry="3.8"/>
<ellipse cx="942.6" cy="1083.8" rx="5.1" ry="3.8"/>
<ellipse cx="958" cy="1110.7" rx="5.1" ry="3.8"/>
<ellipse cx="972.5" cy="1144.5" rx="5.1" ry="3.8"/>
<ellipse cx="987.9" cy="1160.4" rx="5.1" ry="3.8"/>
<ellipse cx="1003.3" cy="1173.2" rx="5.1" ry="3.8"/>
<ellipse cx="1017.4" cy="1163.1" rx="5.1" ry="3.8"/>
<ellipse cx="1032.7" cy="1135.7" rx="5.1" ry="3.8"/>
<ellipse cx="1043.7" cy="1091.8" rx="5.1" ry="3.8"/>
<ellipse cx="1059.1" cy="1071.1" rx="5.1" ry="3.8"/>
<ellipse cx="1070.1" cy="1054.8" rx="5.1" ry="3.8"/>
<ellipse cx="1085.5" cy="1059.7" rx="5.1" ry="3.8"/>
<ellipse cx="1114.5" cy="1050.4" rx="5.1" ry="3.8"/>
<ellipse cx="1140.4" cy="1059.7" rx="5.1" ry="3.8"/>
<ellipse cx="1166.4" cy="1066.3" rx="5.1" ry="3.8"/>
<ellipse cx="1195.8" cy="1114.2" rx="5.1" ry="3.8"/>
<ellipse cx="1222.6" cy="1158.5" rx="5.1" ry="3.8"/>
<ellipse cx="1251.6" cy="1212.7" rx="5.1" ry="3.8"/>
<ellipse cx="1267.5" cy="1206.6" rx="5.1" ry="3.8"/>
<ellipse cx="1282.4" cy="1188.1" rx="5.1" ry="3.8"/>
<ellipse cx="1296.5" cy="1132.6" rx="5.1" ry="3.8"/>
<ellipse cx="1315.4" cy="1107.6" rx="5.1" ry="3.8"/>
<ellipse cx="1330.3" cy="1088.7" rx="5.1" ry="3.8"/>
<ellipse cx="1345.3" cy="1088.7" rx="5.1" ry="3.8"/>
<ellipse cx="1360.7" cy="1074.2" rx="5.1" ry="3.8"/>
<ellipse cx="1379.1" cy="1074.2" rx="5.1" ry="3.8"/>
<ellipse cx="1393.6" cy="1066.3" rx="5.1" ry="3.8"/>
<ellipse cx="1412.5" cy="1077.7" rx="5.1" ry="3.8"/>
<ellipse cx="1431" cy="1085.2" rx="5.1" ry="3.8"/>
<ellipse cx="1446.1" cy="1125.8" rx="5.1" ry="3.8"/>
<ellipse cx="1464.7" cy="1172.5" rx="5.1" ry="3.8"/>
<ellipse cx="1482.8" cy="1219.8" rx="5.1" ry="3.8"/>
<ellipse cx="1502" cy="1202" rx="5.1" ry="3.8"/>
<ellipse cx="1531.5" cy="1144.5" rx="5.1" ry="3.8"/>
<ellipse cx="1564.9" cy="1073.3" rx="5.1" ry="3.8"/>
<ellipse cx="1594.8" cy="1038.6" rx="5.1" ry="3.8"/>
<ellipse cx="1624.6" cy="1023.6" rx="5.1" ry="3.8"/>
<ellipse cx="1651" cy="1011.8" rx="5.1" ry="3.8"/>
<ellipse cx="1677" cy="1014" rx="5.1" ry="3.8"/>
<ellipse cx="1698.9" cy="1059.7" rx="5.1" ry="3.8"/>
<ellipse cx="1725.3" cy="1119.5" rx="5.1" ry="3.8"/>
<ellipse cx="1751.7" cy="1173.4" rx="5.1" ry="3.8"/>
<ellipse cx="1776.7" cy="1195.2" rx="5.1" ry="3.8"/>
</g>
<polyline points="574.5,1292.4 593,1267.4 604.8,1209.8 633.4,1212 660.2,1236.6 679.1,1251.5 704.7,1282.3 730.9,1295.3 753.1,1324.5 775.7,1343.2 793.7,1317 816.5,1290.7 835.4,1290.2 857.4,1290.2 876.3,1270.4 889.9,1219.5 910.1,1209.3 924.2,1229.1 939.6,1245.8 954.1,1290.7 969,1321.4 987.5,1375.9 1003.3,1365.8 1014.3,1354 1028.8,1309.6 1043.7,1306.9 1059.1,1302.1 1070.1,1285.4 1084.6,1270.4 1110.5,1258.1 1140.4,1270.4 1166.4,1270.4 1195.8,1298.1 1218.7,1361.4 1252.1,1415.1 1267.5,1417.3 1282.4,1354 1296.5,1367.6 1311.9,1356.6 1330.3,1334.6 1345.3,1268.7 1357.1,1292.4 1375.2,1304.7 1393.6,1321.4 1412.5,1298.6 1427.5,1336.8 1446.5,1373.3 1464.7,1402.3 1482.8,1400.8 1498.9,1400.5 1531.5,1378.6 1561.4,1368.5 1591.2,1343.8 1624.6,1319.2 1651,1309.6 1677,1324.5 1699.8,1356.6 1725.3,1402.3 1751.7,1374.2 1775.9,1378.6" stroke="#1b79c0" stroke-width="2.9"/>
<g fill="#1b79c0" stroke="none">
<ellipse cx="574.5" cy="1292.4" rx="5.1" ry="3.7"/>
<ellipse cx="593" cy="1267.4" rx="5.1" ry="3.7"/>
<ellipse cx="604.8" cy="1209.8" rx="5.1" ry="3.7"/>
<ellipse cx="633.4" cy="1212" rx="5.1" ry="3.7"/>
<ellipse cx="660.2" cy="1236.6" rx="5.1" ry="3.7"/>
<ellipse cx="679.1" cy="1251.5" rx="5.1" ry="3.7"/>
<ellipse cx="704.7" cy="1282.3" rx="5.1" ry="3.7"/>
<ellipse cx="730.9" cy="1295.3" rx="5.1" ry="3.7"/>
<ellipse cx="753.1" cy="1324.5" rx="5.1" ry="3.7"/>
<ellipse cx="775.7" cy="1343.2" rx="5.1" ry="3.7"/>
<ellipse cx="793.7" cy="1317" rx="5.1" ry="3.7"/>
<ellipse cx="816.5" cy="1290.7" rx="5.1" ry="3.7"/>
<ellipse cx="835.4" cy="1290.2" rx="5.1" ry="3.7"/>
<ellipse cx="857.4" cy="1290.2" rx="5.1" ry="3.7"/>
<ellipse cx="876.3" cy="1270.4" rx="5.1" ry="3.7"/>
<ellipse cx="889.9" cy="1219.5" rx="5.1" ry="3.7"/>
<ellipse cx="910.1" cy="1209.3" rx="5.1" ry="3.7"/>
<ellipse cx="924.2" cy="1229.1" rx="5.1" ry="3.7"/>
<ellipse cx="939.6" cy="1245.8" rx="5.1" ry="3.7"/>
<ellipse cx="954.1" cy="1290.7" rx="5.1" ry="3.7"/>
<ellipse cx="969" cy="1321.4" rx="5.1" ry="3.7"/>
<ellipse cx="987.5" cy="1375.9" rx="5.1" ry="3.7"/>
<ellipse cx="1003.3" cy="1365.8" rx="5.1" ry="3.7"/>
<ellipse cx="1014.3" cy="1354" rx="5.1" ry="3.7"/>
<ellipse cx="1028.8" cy="1309.6" rx="5.1" ry="3.7"/>
<ellipse cx="1043.7" cy="1306.9" rx="5.1" ry="3.7"/>
<ellipse cx="1059.1" cy="1302.1" rx="5.1" ry="3.7"/>
<ellipse cx="1070.1" cy="1285.4" rx="5.1" ry="3.7"/>
<ellipse cx="1084.6" cy="1270.4" rx="5.1" ry="3.7"/>
<ellipse cx="1110.5" cy="1258.1" rx="5.1" ry="3.7"/>
<ellipse cx="1140.4" cy="1270.4" rx="5.1" ry="3.7"/>
<ellipse cx="1166.4" cy="1270.4" rx="5.1" ry="3.7"/>
<ellipse cx="1195.8" cy="1298.1" rx="5.1" ry="3.7"/>
<ellipse cx="1218.7" cy="1361.4" rx="5.1" ry="3.7"/>
<ellipse cx="1252.1" cy="1415.1" rx="5.1" ry="3.7"/>
<ellipse cx="1267.5" cy="1417.3" rx="5.1" ry="3.7"/>
<ellipse cx="1282.4" cy="1354" rx="5.1" ry="3.7"/>
<ellipse cx="1296.5" cy="1367.6" rx="5.1" ry="3.7"/>
<ellipse cx="1311.9" cy="1356.6" rx="5.1" ry="3.7"/>
<ellipse cx="1330.3" cy="1334.6" rx="5.1" ry="3.7"/>
<ellipse cx="1345.3" cy="1268.7" rx="5.1" ry="3.7"/>
<ellipse cx="1357.1" cy="1292.4" rx="5.1" ry="3.7"/>
<ellipse cx="1375.2" cy="1304.7" rx="5.1" ry="3.7"/>
<ellipse cx="1393.6" cy="1321.4" rx="5.1" ry="3.7"/>
<ellipse cx="1412.5" cy="1298.6" rx="5.1" ry="3.7"/>
<ellipse cx="1427.5" cy="1336.8" rx="5.1" ry="3.7"/>
<ellipse cx="1446.5" cy="1373.3" rx="5.1" ry="3.7"/>
<ellipse cx="1464.7" cy="1402.3" rx="5.1" ry="3.7"/>
<ellipse cx="1482.8" cy="1400.8" rx="5.1" ry="3.7"/>
<ellipse cx="1498.9" cy="1400.5" rx="5.1" ry="3.7"/>
<ellipse cx="1531.5" cy="1378.6" rx="5.1" ry="3.7"/>
<ellipse cx="1561.4" cy="1368.5" rx="5.1" ry="3.7"/>
<ellipse cx="1591.2" cy="1343.8" rx="5.1" ry="3.7"/>
<ellipse cx="1624.6" cy="1319.2" rx="5.1" ry="3.7"/>
<ellipse cx="1651" cy="1309.6" rx="5.1" ry="3.7"/>
<ellipse cx="1677" cy="1324.5" rx="5.1" ry="3.7"/>
<ellipse cx="1699.8" cy="1356.6" rx="5.1" ry="3.7"/>
<ellipse cx="1725.3" cy="1402.3" rx="5.1" ry="3.7"/>
<ellipse cx="1751.7" cy="1374.2" rx="5.1" ry="3.7"/>
<ellipse cx="1775.9" cy="1378.6" rx="5.1" ry="3.7"/>
</g>
<polyline points="236,1557.1 250.5,1568.1 269,1547.4 280.4,1497.3 298,1455.5 313.8,1434.8 332.7,1428.2 343.7,1431.8 361.8,1443.6 392.1,1482.3 422,1514.9 447.5,1538 478.2,1565.9 506.8,1586.6 522.6,1613 540.7,1580 556,1538.6 574.5,1503.2 593,1500.3 611.9,1508.7 633.4,1500.3 659.3,1511.3 681.8,1535.8 706.5,1559.1 730.9,1560.2 756.8,1556.9 779.2,1565.7 798,1568.5 820,1538.6 838.9,1500.3 861.8,1470.9 879.3,1460.3 894.7,1443.6 909.2,1443.6 924.2,1452.4 943.1,1482.3 958,1498.1 972.5,1511.8 991.4,1524.1 1006.4,1555.7 1021.3,1564.9 1036.3,1540.3 1047.3,1500.3 1062.2,1464.7 1073.2,1473.1 1088.6,1491.1 1114.5,1523.6 1144,1526.3 1169.9,1518.4 1200.2,1514.8 1226.2,1517.9 1255.6,1547.8 1270.5,1556.6 1285.5,1550 1300.4,1518.4 1315.4,1497.3 1330.3,1474.4 1345.3,1476.6 1360.2,1484.9 1379.1,1509.1 1396.7,1500.3 1416,1492 1431,1498.1 1449.6,1533.3 1468,1565.4 1486.9,1594.8 1505.5,1591.8 1535,1565.4 1569.3,1509.6 1598.7,1490.7 1628.6,1474 1651,1474 1677,1499.5 1702.5,1514.8 1728.8,1547.4 1751.7,1527.1 1781.1,1634 1836.5,1684.9" stroke="#962386" stroke-width="2.4"/>
<g fill="#962386" stroke="none">
<ellipse cx="236" cy="1557.1" rx="5.2" ry="3.9"/>
<ellipse cx="250.5" cy="1568.1" rx="5.2" ry="3.9"/>
<ellipse cx="269" cy="1547.4" rx="5.2" ry="3.9"/>
<ellipse cx="280.4" cy="1497.3" rx="5.2" ry="3.9"/>
<ellipse cx="298" cy="1455.5" rx="5.2" ry="3.9"/>
<ellipse cx="313.8" cy="1434.8" rx="5.2" ry="3.9"/>
<ellipse cx="332.7" cy="1428.2" rx="5.2" ry="3.9"/>
<ellipse cx="343.7" cy="1431.8" rx="5.2" ry="3.9"/>
<ellipse cx="361.8" cy="1443.6" rx="5.2" ry="3.9"/>
<ellipse cx="392.1" cy="1482.3" rx="5.2" ry="3.9"/>
<ellipse cx="422" cy="1514.9" rx="5.2" ry="3.9"/>
<ellipse cx="447.5" cy="1538" rx="5.2" ry="3.9"/>
<ellipse cx="478.2" cy="1565.9" rx="5.2" ry="3.9"/>
<ellipse cx="506.8" cy="1586.6" rx="5.2" ry="3.9"/>
<ellipse cx="522.6" cy="1613" rx="5.2" ry="3.9"/>
<ellipse cx="540.7" cy="1580" rx="5.2" ry="3.9"/>
<ellipse cx="556" cy="1538.6" rx="5.2" ry="3.9"/>
<ellipse cx="574.5" cy="1503.2" rx="5.2" ry="3.9"/>
<ellipse cx="593" cy="1500.3" rx="5.2" ry="3.9"/>
<ellipse cx="611.9" cy="1508.7" rx="5.2" ry="3.9"/>
<ellipse cx="633.4" cy="1500.3" rx="5.2" ry="3.9"/>
<ellipse cx="659.3" cy="1511.3" rx="5.2" ry="3.9"/>
<ellipse cx="681.8" cy="1535.8" rx="5.2" ry="3.9"/>
<ellipse cx="706.5" cy="1559.1" rx="5.2" ry="3.9"/>
<ellipse cx="730.9" cy="1560.2" rx="5.2" ry="3.9"/>
<ellipse cx="756.8" cy="1556.9" rx="5.2" ry="3.9"/>
<ellipse cx="779.2" cy="1565.7" rx="5.2" ry="3.9"/>
<ellipse cx="798" cy="1568.5" rx="5.2" ry="3.9"/>
<ellipse cx="820" cy="1538.6" rx="5.2" ry="3.9"/>
<ellipse cx="838.9" cy="1500.3" rx="5.2" ry="3.9"/>
<ellipse cx="861.8" cy="1470.9" rx="5.2" ry="3.9"/>
<ellipse cx="879.3" cy="1460.3" rx="5.2" ry="3.9"/>
<ellipse cx="894.7" cy="1443.6" rx="5.2" ry="3.9"/>
<ellipse cx="909.2" cy="1443.6" rx="5.2" ry="3.9"/>
<ellipse cx="924.2" cy="1452.4" rx="5.2" ry="3.9"/>
<ellipse cx="943.1" cy="1482.3" rx="5.2" ry="3.9"/>
<ellipse cx="958" cy="1498.1" rx="5.2" ry="3.9"/>
<ellipse cx="972.5" cy="1511.8" rx="5.2" ry="3.9"/>
<ellipse cx="991.4" cy="1524.1" rx="5.2" ry="3.9"/>
<ellipse cx="1006.4" cy="1555.7" rx="5.2" ry="3.9"/>
<ellipse cx="1021.3" cy="1564.9" rx="5.2" ry="3.9"/>
<ellipse cx="1036.3" cy="1540.3" rx="5.2" ry="3.9"/>
<ellipse cx="1047.3" cy="1500.3" rx="5.2" ry="3.9"/>
<ellipse cx="1062.2" cy="1464.7" rx="5.2" ry="3.9"/>
<ellipse cx="1073.2" cy="1473.1" rx="5.2" ry="3.9"/>
<ellipse cx="1088.6" cy="1491.1" rx="5.2" ry="3.9"/>
<ellipse cx="1114.5" cy="1523.6" rx="5.2" ry="3.9"/>
<ellipse cx="1144" cy="1526.3" rx="5.2" ry="3.9"/>
<ellipse cx="1169.9" cy="1518.4" rx="5.2" ry="3.9"/>
<ellipse cx="1200.2" cy="1514.8" rx="5.2" ry="3.9"/>
<ellipse cx="1226.2" cy="1517.9" rx="5.2" ry="3.9"/>
<ellipse cx="1255.6" cy="1547.8" rx="5.2" ry="3.9"/>
<ellipse cx="1270.5" cy="1556.6" rx="5.2" ry="3.9"/>
<ellipse cx="1285.5" cy="1550" rx="5.2" ry="3.9"/>
<ellipse cx="1300.4" cy="1518.4" rx="5.2" ry="3.9"/>
<ellipse cx="1315.4" cy="1497.3" rx="5.2" ry="3.9"/>
<ellipse cx="1330.3" cy="1474.4" rx="5.2" ry="3.9"/>
<ellipse cx="1345.3" cy="1476.6" rx="5.2" ry="3.9"/>
<ellipse cx="1360.2" cy="1484.9" rx="5.2" ry="3.9"/>
<ellipse cx="1379.1" cy="1509.1" rx="5.2" ry="3.9"/>
<ellipse cx="1396.7" cy="1500.3" rx="5.2" ry="3.9"/>
<ellipse cx="1416" cy="1492" rx="5.2" ry="3.9"/>
<ellipse cx="1431" cy="1498.1" rx="5.2" ry="3.9"/>
<ellipse cx="1449.6" cy="1533.3" rx="5.2" ry="3.9"/>
<ellipse cx="1468" cy="1565.4" rx="5.2" ry="3.9"/>
<ellipse cx="1486.9" cy="1594.8" rx="5.2" ry="3.9"/>
<ellipse cx="1505.5" cy="1591.8" rx="5.2" ry="3.9"/>
<ellipse cx="1535" cy="1565.4" rx="5.2" ry="3.9"/>
<ellipse cx="1569.3" cy="1509.6" rx="5.2" ry="3.9"/>
<ellipse cx="1598.7" cy="1490.7" rx="5.2" ry="3.9"/>
<ellipse cx="1628.6" cy="1474" rx="5.2" ry="3.9"/>
<ellipse cx="1651" cy="1474" rx="5.2" ry="3.9"/>
<ellipse cx="1677" cy="1499.5" rx="5.2" ry="3.9"/>
<ellipse cx="1702.5" cy="1514.8" rx="5.2" ry="3.9"/>
<ellipse cx="1728.8" cy="1547.4" rx="5.2" ry="3.9"/>
<ellipse cx="1751.7" cy="1527.1" rx="5.2" ry="3.9"/>
<ellipse cx="1781.1" cy="1634" rx="5.2" ry="3.9"/>
<ellipse cx="1836.5" cy="1684.9" rx="5.2" ry="3.9"/>
</g>
</g>
<line x1="478.2" y1="1527.6" x2="1752.6" y2="1511.3" stroke="#2b2624" stroke-width="3.6"/>
<g id="steps" fill="none" stroke-linejoin="miter" stroke-linecap="butt">
<path d="M251,2137 L261,2137 L261,2197.3 L281.7,2197.3 L281.7,2148.9 L302.3,2148.9 L302.3,2239 L323,2239 L323,2251.3 L343.7,2251.3 L343.7,2244.7 L364.3,2244.7 L364.3,2263.2 L385,2263.2 L385,2167.8 L405.7,2167.8 L405.7,2197.3 L426.3,2197.3 L426.3,2173.1 L447,2173.1 L447,2197.3 L467.7,2197.3 L467.7,2143.2 L488.3,2143.2 L488.3,2184.9 L509,2184.9 L509,2203 L529.7,2203 L529.7,2190.7 L550.3,2190.7 L550.3,2190.7 L571,2190.7 L571,2197.3 L591.7,2197.3 L591.7,2251.3 L612.3,2251.3 L612.3,2245.6 L633,2245.6 L633,2197.3 L653.7,2197.3 L653.7,2191.5 L674.3,2191.5 L674.3,2203 L695,2203 L695,2185.4 L715.7,2185.4 L715.7,2221 L736.3,2221 L736.3,2178.8 L757,2178.8 L757,2173.5 L777.7,2173.5 L777.7,2203 L798.3,2203 L798.3,2280.8 L819,2280.8 L819,2227.1 L839.7,2227.1 L839.7,2322.5 L860.3,2322.5 L860.3,2316.8 L881,2316.8 L881,2263.2 L901.7,2263.2 L901.7,2178.8 L922.3,2178.8 L922.3,2173.1 L943,2173.1 L943,2137 L963.7,2137 L963.7,2167.4 L984.3,2167.4 L984.3,2173.1 L1005,2173.1 L1005,2196.4 L1025.7,2196.4 L1025.7,2209.1 L1046.3,2209.1 L1046.3,2274.2 L1067,2274.2 L1067,2269.8 L1087.7,2269.8 L1087.7,2304.9 L1108.3,2304.9 L1108.3,2209.1 L1129,2209.1 L1129,2316.8 L1149.7,2316.8 L1149.7,2304.9 L1170.3,2304.9 L1170.3,2341 L1191,2341 L1191,2197.3 L1211.7,2197.3 L1211.7,2203 L1232.3,2203 L1232.3,2143.2 L1253,2143.2 L1253,2167.4 L1273.7,2167.4 L1273.7,2244.7 L1294.4,2244.7 L1294.4,2239 L1315,2239 L1315,2227.1 L1335.7,2227.1 L1335.7,2244.7 L1356.4,2244.7 L1356.4,2184.9 L1377,2184.9 L1377,2244.7 L1397.7,2244.7 L1397.7,2214.8 L1418.4,2214.8 L1418.4,2203.4 L1439,2203.4 L1439,2167.4 L1459.7,2167.4 L1459.7,2208.7 L1480.4,2208.7 L1480.4,2173.1 L1501,2173.1 L1501,2184.9 L1521.7,2184.9 L1521.7,2173.1 L1542.4,2173.1 L1542.4,2143.2 L1563,2143.2 L1563,2304.9 L1583.7,2304.9 L1583.7,2329.1 L1604.4,2329.1 L1604.4,2293.1 L1625,2293.1 L1625,2275.1 L1645.7,2275.1 L1645.7,2179.7 L1666.4,2179.7 L1666.4,2184.9 L1687,2184.9 L1687,2161.2 L1707.7,2161.2 L1707.7,2155.5 L1728.4,2155.5 L1728.4,2167.4 L1749,2167.4 L1749,2299.2 L1769.7,2299.2 L1769.7,2221.4 L1790.4,2221.4 L1790.4,2251.3 L1811,2251.3 L1811,2155.5 L1831.7,2155.5" stroke="#595656" stroke-width="5.0"/>
<path d="M736.3,1992.9 L736.3,2008.4 L757,2008.4 L757,1984.2 L777.7,1984.2 L777.7,1963.6 L798.3,1963.6 L798.3,1940.1 L819,1940.1 L819,1966.5 L839.7,1966.5 L839.7,1924.7 L860.3,1924.7 L860.3,1894.8 L881,1894.8 L881,1953.3 L901.7,1953.3 L901.7,1982.7 L922.3,1982.7 L922.3,2008.2 L943,2008.2 L943,2017.9 L963.7,2017.9 L963.7,2015.7 L984.3,2015.7 L984.3,2014 L1005,2014 L1005,1995.1 L1025.7,1995.1 L1025.7,1952.4 L1046.3,1952.4 L1046.3,1927.8 L1067,1927.8 L1067,1935.7 L1087.7,1935.7 L1087.7,1921.2 L1108.3,1921.2 L1108.3,1957.7 L1129,1957.7 L1129,1945.4 L1149.7,1945.4 L1149.7,1953.3 L1170.3,1953.3 L1170.3,1964.3 L1191,1964.3 L1191,2008.2 L1211.7,2008.2 L1211.7,1998.6 L1232.3,1998.6 L1232.3,2014.8 L1253,2014.8 L1253,2040.3 L1273.7,2040.3 L1273.7,1946.7 L1294.4,1946.7 L1294.4,1959.9 L1315,1959.9 L1315,1952.4 L1335.7,1952.4 L1335.7,1950.2 L1356.4,1950.2 L1356.4,1974.4 L1377,1974.4 L1377,1994.2 L1397.7,1994.2 L1397.7,1976.6 L1418.4,1976.6 L1418.4,2017 L1439,2017 L1439,2074.8 M1457.7,2074.8 L1457.7,2023.6 L1480.4,2023.6 L1480.4,2023.6 L1501,2023.6 L1501,2023.6 L1521.7,2023.6 L1521.7,1987.6 L1542.4,1987.6 L1542.4,1986.3 L1563,1986.3 L1563,1899.7 L1583.7,1899.7 L1583.7,1915.1 L1604.4,1915.1 L1604.4,1955.5 L1625,1955.5 L1625,1944.5 L1645.7,1944.5 L1645.7,1981.9 L1666.4,1981.9 L1666.4,2020.5 L1687,2020.5 L1687,2015.7 L1707.7,2015.7 L1707.7,2014.8 L1728.4,2014.8 L1728.4,2009.1 L1749,2009.1 L1749,1948.9 L1769.7,1948.9 L1769.7,1954.2 L1790.4,1954.2 L1790.4,1932.6 L1811,1932.6 L1811,1976.2 L1831.7,1976.2" stroke="#1a1311" stroke-width="5.0"/>
<path d="M245,1968.1 L261,1968.1 L261,1891.2 L281.7,1891.2 L281.7,1891.2 L302.3,1891.2 L302.3,1827.5 L323,1827.5 L323,1806.4 L343.7,1806.4 L343.7,1815.2 L364.3,1815.2 L364.3,1825.3 L385,1825.3 L385,1925.5 L405.7,1925.5 L405.7,1941.8 L426.3,1941.8 L426.3,1951.9 L447,1951.9 L447,1958 L467.7,1958 L467.7,1963.7 L488.3,1963.7 L488.3,1972.5 L509,1972.5 L509,1899.1 L529.7,1899.1 L529.7,1941.8 L550.3,1941.8 L550.3,1899.1 L571,1899.1 L571,1868.4 L591.7,1868.4 L591.7,1864.8 L612.3,1864.8 L612.3,1868.4 L633,1868.4 L633,1957.1 L653.7,1957.1 L653.7,1893.4 L674.3,1893.4 L674.3,1938.2 L695,1938.2 L695,1946 L715.7,1946 L715.7,1970.2 L736.3,1970.2 L736.3,1984.2 L757,1984.2 L757,1944.2 L777.7,1944.2 L777.7,1912.1 L798.3,1912.1 L798.3,1864.1 L819,1864.1 L819,1855.7 L839.7,1855.7 L839.7,1795.1 L860.3,1795.1 L860.3,1806.9 L881,1806.9 L881,1877.3 L901.7,1877.3 L901.7,1915.1 L922.3,1915.1 L922.3,1939.2 L943,1939.2 L943,1962.1 L963.7,1962.1 L963.7,1979.7 L984.3,1979.7 L984.3,1988.5 L1005,1988.5 L1005,1952.4 L1025.7,1952.4 L1025.7,1882.1 L1046.3,1882.1 L1046.3,1886 L1067,1886 L1067,1833.3 L1087.7,1833.3 L1087.7,1825.8 L1108.3,1825.8 L1108.3,1865.4 L1129,1865.4 L1129,1883 L1149.7,1883 L1149.7,1883 L1170.3,1883 L1170.3,1918.1 L1191,1918.1 L1191,1953.3 L1211.7,1953.3 L1211.7,1948 L1232.3,1948 L1232.3,2003 L1253,2003 L1253,1968.7 L1273.7,1968.7 L1273.7,1883.8 L1294.4,1883.8 L1294.4,1898.4 L1315,1898.4 L1315,1850 L1335.7,1850 L1335.7,1848.7 L1356.4,1848.7 L1356.4,1864.1 L1377,1864.1 L1377,1865.4 L1397.7,1865.4 L1397.7,1878.6 L1418.4,1878.6 L1418.4,1956.4 L1439,1956.4 L1439,1952.9 L1459.7,1952.9 L1459.7,1953.7 L1480.4,1953.7 L1480.4,1943.6 L1501,1943.6 L1501,1901.9 L1521.7,1901.9 L1521.7,1938.8 L1542.4,1938.8 L1542.4,1943.6 L1563,1943.6 L1563,1801.6 L1583.7,1801.6 L1583.7,1817 L1604.4,1817 L1604.4,1832.4 L1625,1832.4 L1625,1878.6 L1645.7,1878.6 L1645.7,1931.3 L1666.4,1931.3 L1666.4,1942.3 L1687,1942.3 L1687,1966.5 L1707.7,1966.5 L1707.7,1967.4 L1728.4,1967.4 L1728.4,1988.5 L1749,1988.5 L1749,1899.7 L1769.7,1899.7 L1769.7,1912.4 L1790.4,1912.4 L1790.4,1877.3 L1811,1877.3 L1811,1910.2 L1831.7,1910.2" stroke="#595656" stroke-width="5.0"/>
</g>
<polyline points="239.6,1957.1 261.5,1941.8 327.5,1849.5 342.9,1776.9 362.6,1803.3 389,1809 408.8,1827.5 452.7,1924.2 509.9,1972.5 571.4,1871.4 589,1825.3 630.8,1806.4 657.1,1837.6 698.9,1922 726.4,1946.7 758.8,1972.4 785.2,1947.5 794.5,1902.7 853.8,1780.5 871.4,1786.3 897.8,1810.4 924.2,1876.4 946.2,1900.5 961.5,1940.1 983.5,1926.9 1009.9,1990.7 1025.3,1924.7 1062.6,1825.8 1071.4,1819.2 1089,1817 1104.4,1804.7 1133,1834.6 1154.9,1843.4 1172.5,1853.1 1194.5,1896.2 1212.1,1901.4 1231.9,1939.2 1256,1927.8 1275.8,1943.6 1289,1896.2 1322,1841.2 1372.5,1803.8 1407.7,1828 1433,1867.6 1458.8,1928.5 1479.7,1943 1496.7,1984.1 1560.5,1876.4 1584.6,1825.8 1602.2,1778.8 1611,1774.4 1626.4,1776.6 1646.2,1817 1661.6,1821.4 1687.9,1876.4 1727.5,1948.9 1746,1955.5 1767.1,1924.7 1786.8,1904.9 1806.6,1863.2" fill="none" stroke="#e5425f" stroke-width="3.3" stroke-dasharray="39.5 12.5"/>
<polyline points="239.6,2318.4 261.5,2303.1 327.5,2210.8 342.9,2138.2 362.6,2164.6 389,2170.3 408.8,2188.8 452.7,2285.5 509.9,2333.8 571.4,2232.7 589,2186.6 630.8,2167.7 657.1,2198.9 698.9,2283.3 726.4,2308 758.8,2333.7 785.2,2308.8 794.5,2264 853.8,2141.8 871.4,2147.6 897.8,2171.7 924.2,2237.7 946.2,2261.8 961.5,2301.4 983.5,2288.2 1009.9,2352 1025.3,2286 1062.6,2187.1 1071.4,2180.5 1089,2178.3 1104.4,2166 1133,2195.9 1154.9,2204.7 1172.5,2214.4 1194.5,2257.5 1212.1,2262.7 1231.9,2300.5 1256,2289.1 1275.8,2304.9 1289,2257.5 1322,2202.5 1372.5,2165.1 1407.7,2189.3 1433,2228.9 1458.8,2289.8 1479.7,2304.3 1496.7,2345.4 1560.5,2237.7 1584.6,2187.1 1602.2,2140.1 1611,2135.7 1626.4,2137.9 1646.2,2178.3 1661.6,2182.7 1687.9,2237.7 1727.5,2310.2 1746,2316.8 1767.1,2286 1786.8,2266.2 1806.6,2224.5" fill="none" stroke="#e5425f" stroke-width="3.3" stroke-dasharray="39.5 12.5"/>
<g id="axes">
<line x1="229.2" y1="127" x2="1967.8" y2="127" stroke="#1a1311" stroke-width="3.6"/>
<line x1="231" y1="127" x2="231" y2="2377.2" stroke="#1a1311" stroke-width="3.6"/>
<line x1="1966" y1="127" x2="1966" y2="2377.2" stroke="#1a1311" stroke-width="3.6"/>
<line x1="229.2" y1="2377.2" x2="1967.8" y2="2377.2" stroke="#1a1311" stroke-width="3.6"/>
<line x1="231" y1="1715.5" x2="1966" y2="1715.5" stroke="#1a1311" stroke-width="3.6"/>
<line x1="231" y1="2074.8" x2="1966" y2="2074.8" stroke="#1a1311" stroke-width="3.6"/>
<line x1="478" y1="127" x2="478" y2="152.5" stroke="#1a1311" stroke-width="3.6"/>
<line x1="478" y1="1715.5" x2="478" y2="1692.5" stroke="#1a1311" stroke-width="3.6"/>
<line x1="475.6" y1="2377.2" x2="475.6" y2="2359.7" stroke="#1a1311" stroke-width="3.6"/>
<line x1="726.6" y1="127" x2="726.6" y2="152.5" stroke="#1a1311" stroke-width="3.6"/>
<line x1="726.6" y1="1715.5" x2="726.6" y2="1692.5" stroke="#1a1311" stroke-width="3.6"/>
<line x1="724.4" y1="2377.2" x2="724.4" y2="2359.7" stroke="#1a1311" stroke-width="3.6"/>
<line x1="975.2" y1="127" x2="975.2" y2="152.5" stroke="#1a1311" stroke-width="3.6"/>
<line x1="975.2" y1="1715.5" x2="975.2" y2="1692.5" stroke="#1a1311" stroke-width="3.6"/>
<line x1="973.2" y1="2377.2" x2="973.2" y2="2359.7" stroke="#1a1311" stroke-width="3.6"/>
<line x1="1223.8" y1="127" x2="1223.8" y2="152.5" stroke="#1a1311" stroke-width="3.6"/>
<line x1="1223.8" y1="1715.5" x2="1223.8" y2="1692.5" stroke="#1a1311" stroke-width="3.6"/>
<line x1="1222" y1="2377.2" x2="1222" y2="2359.7" stroke="#1a1311" stroke-width="3.6"/>
<line x1="1472.4" y1="127" x2="1472.4" y2="152.5" stroke="#1a1311" stroke-width="3.6"/>
<line x1="1472.4" y1="1715.5" x2="1472.4" y2="1692.5" stroke="#1a1311" stroke-width="3.6"/>
<line x1="1470.8" y1="2377.2" x2="1470.8" y2="2359.7" stroke="#1a1311" stroke-width="3.6"/>
<line x1="1721" y1="127" x2="1721" y2="152.5" stroke="#1a1311" stroke-width="3.6"/>
<line x1="1721" y1="1715.5" x2="1721" y2="1692.5" stroke="#1a1311" stroke-width="3.6"/>
<line x1="1719.6" y1="2377.2" x2="1719.6" y2="2359.7" stroke="#1a1311" stroke-width="3.6"/>
<line x1="231" y1="196.7" x2="255" y2="196.7" stroke="#1a1311" stroke-width="3.8"/>
<line x1="231" y1="253.4" x2="255" y2="253.4" stroke="#1a1311" stroke-width="3.8"/>
<line x1="231" y1="312.7" x2="255" y2="312.7" stroke="#1a1311" stroke-width="3.8"/>
<line x1="231" y1="370.3" x2="255" y2="370.3" stroke="#1a1311" stroke-width="3.8"/>
<line x1="231" y1="426.8" x2="255" y2="426.8" stroke="#1a1311" stroke-width="3.8"/>
<line x1="231" y1="539.6" x2="255" y2="539.6" stroke="#1a1311" stroke-width="3.8"/>
<line x1="231" y1="602.9" x2="255" y2="602.9" stroke="#1a1311" stroke-width="3.8"/>
<line x1="231" y1="663.1" x2="255" y2="663.1" stroke="#1a1311" stroke-width="3.8"/>
<line x1="231" y1="725.7" x2="255" y2="725.7" stroke="#1a1311" stroke-width="3.8"/>
<line x1="231" y1="785.3" x2="255" y2="785.3" stroke="#1a1311" stroke-width="3.8"/>
<line x1="231" y1="849" x2="255" y2="849" stroke="#1a1311" stroke-width="3.8"/>
<line x1="231" y1="993" x2="255" y2="993" stroke="#1a1311" stroke-width="3.8"/>
<line x1="231" y1="1026.4" x2="255" y2="1026.4" stroke="#1a1311" stroke-width="3.8"/>
<line x1="231" y1="1063.7" x2="255" y2="1063.7" stroke="#1a1311" stroke-width="3.8"/>
<line x1="231" y1="1098.9" x2="255" y2="1098.9" stroke="#1a1311" stroke-width="3.8"/>
<line x1="231" y1="1136.3" x2="255" y2="1136.3" stroke="#1a1311" stroke-width="3.8"/>
<line x1="231" y1="1169.9" x2="255" y2="1169.9" stroke="#1a1311" stroke-width="3.8"/>
<line x1="231" y1="1206.6" x2="255" y2="1206.6" stroke="#1a1311" stroke-width="3.8"/>
<line x1="231" y1="1241.8" x2="255" y2="1241.8" stroke="#1a1311" stroke-width="3.8"/>
<line x1="231" y1="1396.2" x2="255" y2="1396.2" stroke="#1a1311" stroke-width="3.8"/>
<line x1="231" y1="1461" x2="255" y2="1461" stroke="#1a1311" stroke-width="3.8"/>
<line x1="231" y1="1524.3" x2="255" y2="1524.3" stroke="#1a1311" stroke-width="3.8"/>
<line x1="231" y1="1588.5" x2="255" y2="1588.5" stroke="#1a1311" stroke-width="3.8"/>
<line x1="231" y1="1652.9" x2="255" y2="1652.9" stroke="#1a1311" stroke-width="3.8"/>
<line x1="231" y1="1787.9" x2="250.5" y2="1787.9" stroke="#1a1311" stroke-width="4"/>
<line x1="231" y1="1860.4" x2="250.5" y2="1860.4" stroke="#1a1311" stroke-width="4"/>
<line x1="231" y1="1931.9" x2="250.5" y2="1931.9" stroke="#1a1311" stroke-width="4"/>
<line x1="231" y1="2004.8" x2="250.5" y2="2004.8" stroke="#1a1311" stroke-width="4"/>
<line x1="231" y1="2137.1" x2="250.5" y2="2137.1" stroke="#1a1311" stroke-width="4"/>
<line x1="231" y1="2197.1" x2="250.5" y2="2197.1" stroke="#1a1311" stroke-width="4"/>
<line x1="231" y1="2257.6" x2="250.5" y2="2257.6" stroke="#1a1311" stroke-width="4"/>
<line x1="231" y1="2315.2" x2="250.5" y2="2315.2" stroke="#1a1311" stroke-width="4"/>
<line x1="1966" y1="343.7" x2="1941" y2="343.7" stroke="#1a1311" stroke-width="3.8"/>
<line x1="1966" y1="376.7" x2="1941" y2="376.7" stroke="#1a1311" stroke-width="3.8"/>
<line x1="1966" y1="412.5" x2="1941" y2="412.5" stroke="#1a1311" stroke-width="3.8"/>
<line x1="1966" y1="447.5" x2="1941" y2="447.5" stroke="#1a1311" stroke-width="3.8"/>
<line x1="1966" y1="481.1" x2="1941" y2="481.1" stroke="#1a1311" stroke-width="3.8"/>
<line x1="1966" y1="514.7" x2="1941" y2="514.7" stroke="#1a1311" stroke-width="3.8"/>
<line x1="1966" y1="548.6" x2="1941" y2="548.6" stroke="#1a1311" stroke-width="3.8"/>
<line x1="1966" y1="582.6" x2="1941" y2="582.6" stroke="#1a1311" stroke-width="3.8"/>
<line x1="1966" y1="617.8" x2="1941" y2="617.8" stroke="#1a1311" stroke-width="3.8"/>
<line x1="1966" y1="745.9" x2="1941" y2="745.9" stroke="#1a1311" stroke-width="3.8"/>
<line x1="1966" y1="786.2" x2="1941" y2="786.2" stroke="#1a1311" stroke-width="3.8"/>
<line x1="1966" y1="827.7" x2="1941" y2="827.7" stroke="#1a1311" stroke-width="3.8"/>
<line x1="1966" y1="868.6" x2="1941" y2="868.6" stroke="#1a1311" stroke-width="3.8"/>
<line x1="1966" y1="910.8" x2="1941" y2="910.8" stroke="#1a1311" stroke-width="3.8"/>
<line x1="1966" y1="950.8" x2="1941" y2="950.8" stroke="#1a1311" stroke-width="3.8"/>
<line x1="1966" y1="992.5" x2="1941" y2="992.5" stroke="#1a1311" stroke-width="3.8"/>
<line x1="1966" y1="1032.3" x2="1941" y2="1032.3" stroke="#1a1311" stroke-width="3.8"/>
<line x1="1966" y1="1155.4" x2="1941" y2="1155.4" stroke="#1a1311" stroke-width="3.8"/>
<line x1="1966" y1="1221.8" x2="1941" y2="1221.8" stroke="#1a1311" stroke-width="3.8"/>
<line x1="1966" y1="1287.7" x2="1941" y2="1287.7" stroke="#1a1311" stroke-width="3.8"/>
<line x1="1966" y1="1354.1" x2="1941" y2="1354.1" stroke="#1a1311" stroke-width="3.8"/>
<line x1="1966" y1="1420.7" x2="1941" y2="1420.7" stroke="#1a1311" stroke-width="3.8"/>
<line x1="1966" y1="1775.4" x2="1941" y2="1775.4" stroke="#1a1311" stroke-width="3.8"/>
<line x1="1966" y1="1835.6" x2="1941" y2="1835.6" stroke="#1a1311" stroke-width="3.8"/>
<line x1="1966" y1="1895.6" x2="1941" y2="1895.6" stroke="#1a1311" stroke-width="3.8"/>
<line x1="1966" y1="1956" x2="1941" y2="1956" stroke="#1a1311" stroke-width="3.8"/>
<line x1="1966" y1="2017.1" x2="1941" y2="2017.1" stroke="#1a1311" stroke-width="3.8"/>
<line x1="1966" y1="2136.7" x2="1941" y2="2136.7" stroke="#1a1311" stroke-width="3.8"/>
<line x1="1966" y1="2196.5" x2="1941" y2="2196.5" stroke="#1a1311" stroke-width="3.8"/>
<line x1="1966" y1="2256.9" x2="1941" y2="2256.9" stroke="#1a1311" stroke-width="3.8"/>
<line x1="1966" y1="2317.8" x2="1941" y2="2317.8" stroke="#1a1311" stroke-width="3.8"/>
<line x1="2101.6" y1="1394.8" x2="2101.6" y2="1711.4" stroke="#1a1311" stroke-width="3.3"/>
<line x1="2101.6" y1="1396.5" x2="2125.3" y2="1396.5" stroke="#1a1311" stroke-width="3.3"/>
<line x1="2101.6" y1="1460.9" x2="2125.3" y2="1460.9" stroke="#1a1311" stroke-width="3.3"/>
<line x1="2101.6" y1="1524" x2="2125.3" y2="1524" stroke="#1a1311" stroke-width="3.3"/>
<line x1="2101.6" y1="1588.8" x2="2125.3" y2="1588.8" stroke="#1a1311" stroke-width="3.3"/>
<line x1="2101.6" y1="1652.1" x2="2125.3" y2="1652.1" stroke="#1a1311" stroke-width="3.3"/>
<line x1="2101.6" y1="1709.7" x2="2125.3" y2="1709.7" stroke="#1a1311" stroke-width="3.3"/>
</g>
<line x1="279.5" y1="339.5" x2="279.5" y2="373.6" stroke="#1a1311" stroke-width="3.4"/>
<line x1="269" y1="339.5" x2="290" y2="339.5" stroke="#1a1311" stroke-width="3.4"/>
<line x1="269" y1="373.6" x2="290" y2="373.6" stroke="#1a1311" stroke-width="3.4"/>
<line x1="1920.9" y1="481.3" x2="1920.9" y2="523.4" stroke="#1a1311" stroke-width="3.4"/>
<line x1="1910.4" y1="481.3" x2="1931.4" y2="481.3" stroke="#1a1311" stroke-width="3.4"/>
<line x1="1910.4" y1="523.4" x2="1931.4" y2="523.4" stroke="#1a1311" stroke-width="3.4"/>
<line x1="277.8" y1="783.7" x2="277.8" y2="867.7" stroke="#1a1311" stroke-width="3.4"/>
<line x1="267.3" y1="783.7" x2="288.3" y2="783.7" stroke="#1a1311" stroke-width="3.4"/>
<line x1="267.3" y1="867.7" x2="288.3" y2="867.7" stroke="#1a1311" stroke-width="3.4"/>
<line x1="1920.9" y1="1025" x2="1920.9" y2="1043" stroke="#1a1311" stroke-width="3.4"/>
<line x1="1910.4" y1="1025" x2="1931.4" y2="1025" stroke="#1a1311" stroke-width="3.4"/>
<line x1="1910.4" y1="1043" x2="1931.4" y2="1043" stroke="#1a1311" stroke-width="3.4"/>
<line x1="439.6" y1="1757" x2="531.9" y2="1757" stroke="#1a1311" stroke-width="5"/>
<line x1="871.4" y1="1757" x2="963.7" y2="1757" stroke="#595656" stroke-width="5"/>
<g id="labels" fill="#1a1311" stroke="#1a1311" stroke-linejoin="round">
<text transform="translate(972.2 34.6)" font-size="49.5" font-weight="bold" stroke-width="0.2" letter-spacing="1.41">Year (A.D.)</text>
<text transform="translate(963 2489)" font-size="49.5" font-weight="bold" stroke-width="0.2" letter-spacing="1.33">Year (A.D.)</text>
<text transform="translate(195.4 106) scale(1 1.040)" font-size="47.9" stroke-width="0.2" letter-spacing="1.85">1991</text>
<text transform="translate(194.3 2434.2) scale(1 1.040)" font-size="47.9" stroke-width="0.2" letter-spacing="1.85">1991</text>
<text transform="translate(423 106) scale(1 1.040)" font-size="47.9" stroke-width="0.2" letter-spacing="1.85">1992</text>
<text transform="translate(421.2 2434.2) scale(1 1.040)" font-size="47.9" stroke-width="0.2" letter-spacing="1.85">1992</text>
<text transform="translate(670.7 106) scale(1 1.040)" font-size="47.9" stroke-width="0.2" letter-spacing="1.85">1993</text>
<text transform="translate(668.2 2434.2) scale(1 1.040)" font-size="47.9" stroke-width="0.2" letter-spacing="1.85">1993</text>
<text transform="translate(921.3 106) scale(1 1.040)" font-size="47.9" stroke-width="0.2" letter-spacing="1.85">1994</text>
<text transform="translate(919 2434.2) scale(1 1.040)" font-size="47.9" stroke-width="0.2" letter-spacing="1.85">1994</text>
<text transform="translate(1171.2 106) scale(1 1.040)" font-size="47.9" stroke-width="0.2" letter-spacing="1.85">1995</text>
<text transform="translate(1168.4 2434.2) scale(1 1.040)" font-size="47.9" stroke-width="0.2" letter-spacing="1.85">1995</text>
<text transform="translate(1419.2 106) scale(1 1.040)" font-size="47.9" stroke-width="0.2" letter-spacing="1.85">1996</text>
<text transform="translate(1416 2434.2) scale(1 1.040)" font-size="47.9" stroke-width="0.2" letter-spacing="1.85">1996</text>
<text transform="translate(1667.2 106) scale(1 1.040)" font-size="47.9" stroke-width="0.2" letter-spacing="1.85">1997</text>
<text transform="translate(1665 2434.2) scale(1 1.040)" font-size="47.9" stroke-width="0.2" letter-spacing="1.85">1997</text>
<text transform="translate(1896.7 106) scale(1 1.040)" font-size="47.9" stroke-width="0.2" letter-spacing="1.85">1998</text>
<text transform="translate(1895.2 2434.2) scale(1 1.040)" font-size="47.9" stroke-width="0.2" letter-spacing="1.85">1998</text>
<text transform="translate(137.6 152.7) scale(1 1.040)" font-size="47.9" stroke-width="0.2" letter-spacing="2.55">5.0</text>
<text transform="translate(138.1 211) scale(1 1.040)" font-size="47.9" stroke-width="0.2" letter-spacing="2.55">4.8</text>
<text transform="translate(138.1 270.3) scale(1 1.040)" font-size="47.9" stroke-width="0.2" letter-spacing="2.55">4.6</text>
<text transform="translate(137.1 333) scale(1 1.040)" font-size="47.9" stroke-width="0.2" letter-spacing="2.55">4.4</text>
<text transform="translate(138.1 388.4) scale(1 1.040)" font-size="47.9" stroke-width="0.2" letter-spacing="2.55">4.2</text>
<text transform="translate(137.6 446.2) scale(1 1.040)" font-size="47.9" stroke-width="0.2" letter-spacing="2.55">4.0</text>
<text transform="translate(115 554.9) scale(1 1.040)" font-size="47.9" stroke-width="0.2" letter-spacing="2.60">0.90</text>
<text transform="translate(115 619.8) scale(1 1.040)" font-size="47.9" stroke-width="0.2" letter-spacing="2.60">0.95</text>
<text transform="translate(115 682.4) scale(1 1.040)" font-size="47.9" stroke-width="0.2" letter-spacing="2.60">1.00</text>
<text transform="translate(115 742.9) scale(1 1.040)" font-size="47.9" stroke-width="0.2" letter-spacing="2.60">1.05</text>
<text transform="translate(115 806.6) scale(1 1.040)" font-size="47.9" stroke-width="0.2" letter-spacing="2.60">1.10</text>
<text transform="translate(115 864.8) scale(1 1.040)" font-size="47.9" stroke-width="0.2" letter-spacing="2.60">1.15</text>
<text transform="translate(117.8 1003.3) scale(1 1.040)" font-size="47.9" stroke-width="0.2" letter-spacing="3.13">-5.8</text>
<text transform="translate(116.8 1082) scale(1 1.040)" font-size="47.9" stroke-width="0.2" letter-spacing="3.13">-5.4</text>
<text transform="translate(117.3 1151.6) scale(1 1.040)" font-size="47.9" stroke-width="0.2" letter-spacing="3.13">-5.0</text>
<text transform="translate(117.8 1220.9) scale(1 1.040)" font-size="47.9" stroke-width="0.2" letter-spacing="3.13">-4.6</text>
<text transform="translate(117.8 1407.1) scale(1 1.040)" font-size="47.9" stroke-width="0.2" letter-spacing="3.13">23.5</text>
<text transform="translate(117.8 1477.5) scale(1 1.040)" font-size="47.9" stroke-width="0.2" letter-spacing="3.13">24.0</text>
<text transform="translate(117.8 1537.9) scale(1 1.040)" font-size="47.9" stroke-width="0.2" letter-spacing="3.13">24.5</text>
<text transform="translate(117.8 1601.6) scale(1 1.040)" font-size="47.9" stroke-width="0.2" letter-spacing="3.13">25.0</text>
<text transform="translate(117.8 1667.6) scale(1 1.040)" font-size="47.9" stroke-width="0.2" letter-spacing="3.13">25.5</text>
<text transform="translate(117.8 1721.4) scale(1 1.040)" font-size="47.9" stroke-width="0.2" letter-spacing="3.13">26.0</text>
<text transform="translate(125.5 1804.4) scale(1 1.040)" font-size="47.9" stroke-width="0.2" letter-spacing="2.10">800</text>
<text transform="translate(125.5 1878) scale(1 1.040)" font-size="47.9" stroke-width="0.2" letter-spacing="2.10">600</text>
<text transform="translate(125.5 1948.4) scale(1 1.040)" font-size="47.9" stroke-width="0.2" letter-spacing="2.10">400</text>
<text transform="translate(125.5 2022) scale(1 1.040)" font-size="47.9" stroke-width="0.2" letter-spacing="2.10">200</text>
<text transform="translate(182.7 2078) scale(1 1.040)" font-size="47.9" stroke-width="0.2" letter-spacing="2.10">0</text>
<text transform="translate(187.5 2150.8) scale(1 1.040)" font-size="47.9" stroke-width="0.2" letter-spacing="1.90">9</text>
<text transform="translate(187.5 2220.7) scale(1 1.040)" font-size="47.9" stroke-width="0.2" letter-spacing="1.90">8</text>
<text transform="translate(187.5 2274.5) scale(1 1.040)" font-size="47.9" stroke-width="0.2" letter-spacing="1.90">7</text>
<text transform="translate(187.5 2336) scale(1 1.040)" font-size="47.9" stroke-width="0.2" letter-spacing="1.90">6</text>
<text transform="translate(187 2395.4) scale(1 1.040)" font-size="47.9" stroke-width="0.2" letter-spacing="1.90">5</text>
<text transform="translate(1981.5 360.2) scale(1 1.040)" font-size="47.9" stroke-width="0.2" letter-spacing="2.30">8.4</text>
<text transform="translate(1981.5 431.6) scale(1 1.040)" font-size="47.9" stroke-width="0.2" letter-spacing="2.30">8.6</text>
<text transform="translate(1981.5 497.6) scale(1 1.040)" font-size="47.9" stroke-width="0.2" letter-spacing="2.30">8.8</text>
<text transform="translate(1981.5 565.7) scale(1 1.040)" font-size="47.9" stroke-width="0.2" letter-spacing="2.30">9.0</text>
<text transform="translate(1981.5 637.8) scale(1 1.040)" font-size="47.9" stroke-width="0.2" letter-spacing="2.30">9.2</text>
<text transform="translate(1980.5 760.2) scale(1 1.040)" font-size="47.9" stroke-width="0.2" letter-spacing="1.85">380</text>
<text transform="translate(1981 847) scale(1 1.040)" font-size="47.9" stroke-width="0.2" letter-spacing="1.85">420</text>
<text transform="translate(1981 930.5) scale(1 1.040)" font-size="47.9" stroke-width="0.2" letter-spacing="1.85">460</text>
<text transform="translate(1980 1011.9) scale(1 1.040)" font-size="47.9" stroke-width="0.2" letter-spacing="1.85">500</text>
<text transform="translate(1979.4 1170.5) scale(1 1.040)" font-size="47.9" stroke-width="0.2" letter-spacing="2.93">-1.5</text>
<text transform="translate(1979.4 1236.5) scale(1 1.040)" font-size="47.9" stroke-width="0.2" letter-spacing="2.93">-2.0</text>
<text transform="translate(1979.4 1301.5) scale(1 1.040)" font-size="47.9" stroke-width="0.2" letter-spacing="2.93">-2.5</text>
<text transform="translate(1979.4 1368.4) scale(1 1.040)" font-size="47.9" stroke-width="0.2" letter-spacing="2.93">-3.0</text>
<text transform="translate(1979.4 1433.4) scale(1 1.040)" font-size="47.9" stroke-width="0.2" letter-spacing="2.93">-3.5</text>
<text transform="translate(1981 1789) scale(1 1.040)" font-size="47.9" stroke-width="0.2" letter-spacing="1.60">30</text>
<text transform="translate(1980.5 1847.3) scale(1 1.040)" font-size="47.9" stroke-width="0.2" letter-spacing="1.60">28</text>
<text transform="translate(1980.5 1913.2) scale(1 1.040)" font-size="47.9" stroke-width="0.2" letter-spacing="1.60">26</text>
<text transform="translate(1980.5 1970.8) scale(1 1.040)" font-size="47.9" stroke-width="0.2" letter-spacing="1.60">24</text>
<text transform="translate(1980.5 2027.5) scale(1 1.040)" font-size="47.9" stroke-width="0.2" letter-spacing="1.60">22</text>
<text transform="translate(1981 2149.2) scale(1 1.040)" font-size="47.9" stroke-width="0.2" letter-spacing="1.60">30</text>
<text transform="translate(1980.5 2207) scale(1 1.040)" font-size="47.9" stroke-width="0.2" letter-spacing="1.60">28</text>
<text transform="translate(1980.5 2273.4) scale(1 1.040)" font-size="47.9" stroke-width="0.2" letter-spacing="1.60">26</text>
<text transform="translate(1980.5 2330.5) scale(1 1.040)" font-size="47.9" stroke-width="0.2" letter-spacing="1.60">24</text>
<text transform="translate(1980.5 2387.3) scale(1 1.040)" font-size="47.9" stroke-width="0.2" letter-spacing="1.60">22</text>
<text transform="translate(2132.7 1415.2) scale(1 1.040)" font-size="47.9" stroke-width="0.2" letter-spacing="3.17">7.98</text>
<text transform="translate(2133.2 1472.3) scale(1 1.040)" font-size="47.9" stroke-width="0.2" letter-spacing="3.17">8.05</text>
<text transform="translate(2133.2 1538.2) scale(1 1.040)" font-size="47.9" stroke-width="0.2" letter-spacing="3.17">8.11</text>
<text transform="translate(2133.2 1602) scale(1 1.040)" font-size="47.9" stroke-width="0.2" letter-spacing="3.17">8.17</text>
<text transform="translate(2133.2 1664.6) scale(1 1.040)" font-size="47.9" stroke-width="0.2" letter-spacing="3.17">8.22</text>
<text transform="translate(2133.2 1721.8) scale(1 1.040)" font-size="47.9" stroke-width="0.2" letter-spacing="3.17">8.28</text>
<text transform="translate(295.2 368.2) scale(1 1.040)" font-size="35.5" stroke-width="0.2" letter-spacing="2.22">2σ=1.6%</text>
<text transform="translate(1740.5 512.5) scale(1 1.040)" font-size="35.5" stroke-width="0.2" letter-spacing="2.37">2σ=1.6%</text>
<text transform="translate(289.5 834.3) scale(1 1.040)" font-size="35.5" stroke-width="0.2" letter-spacing="2.45">2σ=6.2%</text>
<text transform="translate(1740.5 1045.8) scale(1 1.040)" font-size="35.5" stroke-width="0.2" letter-spacing="2.37">2σ=2.1%</text>
<text transform="translate(320.5 1672.5) scale(1 1.040)" font-size="35.5" stroke-width="0.2" letter-spacing="2.53">2σ=±0.25‰</text>
<text transform="translate(1708 1496) scale(1 1.040)" font-size="35.5" stroke-width="0.2" letter-spacing="1.68">ΔpH = ~-0.02</text>
<text transform="translate(266.1 184)" font-size="47" font-weight="bold" stroke-width="0.2" letter-spacing="3.45">(a)</text>
<text transform="translate(266.1 1768.2)" font-size="47" font-weight="bold" stroke-width="0.2" letter-spacing="3.35">(b)</text>
<text transform="translate(545.7 1775)" font-size="49.5" stroke-width="0.2" letter-spacing="2.62">Lan-Yu</text>
<text transform="translate(988.2 1769)" font-size="49.5" stroke-width="0.2" letter-spacing="1.93">Tai-Tung</text>
<text transform="translate(35.2 366.7) rotate(-90)" font-size="46.8" stroke-width="1.8" letter-spacing="3.47">Mg/Ca</text>
<text transform="translate(88 429.5) rotate(-90)" font-size="46.8" stroke-width="1.8" letter-spacing="4.86">(mmol/mol)</text>
<text transform="translate(35.2 766.2) rotate(-90)" font-size="46.8" stroke-width="1.8" letter-spacing="4.57">U/Ca</text>
<text transform="translate(88 853.6) rotate(-90)" font-size="46.8" stroke-width="1.8" letter-spacing="6.54">(μmol/mol)</text>
<text transform="translate(89 1186.7) rotate(-90)" font-size="46.8" stroke-width="1.8" letter-spacing="1.23">δ<tspan font-size="28" stroke-width="0.5" dy="-24">18</tspan><tspan dy="24">O (<tspan stroke-width="0.8">‰</tspan>)</tspan></text>
<text transform="translate(89 1636.7) rotate(-90)" font-size="46.8" stroke-width="1.8" letter-spacing="1.76">δ<tspan font-size="28" stroke-width="0.5" dy="-24">11</tspan><tspan dy="24">B (<tspan stroke-width="0.8">‰</tspan>)</tspan></text>
<text transform="translate(57.1 2061.4) rotate(-90)" font-size="44.8" stroke-width="1.8" letter-spacing="3.67">Solar radiation</text>
<text transform="translate(106.6 1974.5) rotate(-90)" font-size="43" stroke-width="1.8" letter-spacing="2.28">(MJ/m<tspan font-size="26" stroke-width="0.5" dy="-21">2</tspan><tspan dy="21">)</tspan></text>
<text transform="translate(58.2 2355.1) rotate(-90)" font-size="44.8" stroke-width="1.8" letter-spacing="3.81">Cloudiness</text>
<text transform="translate(106.6 2294.1) rotate(-90)" font-size="43" stroke-width="1.8" letter-spacing="3.50">(Okta)</text>
<text transform="translate(2138.7 419.2) rotate(90)" font-size="46.8" stroke-width="1.8" letter-spacing="3.75">Sr/Ca</text>
<text transform="translate(2083.5 346.1) rotate(90)" font-size="46.8" stroke-width="1.8" letter-spacing="5.22">(mmol/mol)</text>
<text transform="translate(2138.7 825.4) rotate(90)" font-size="46.8" stroke-width="1.8" letter-spacing="2.97">B/Ca</text>
<text transform="translate(2083.5 749.4) rotate(90)" font-size="46.8" stroke-width="1.8" letter-spacing="4.96">(μmol/mol)</text>
<text transform="translate(2083.5 1193.3) rotate(90)" font-size="46.8" stroke-width="1.8" letter-spacing="1.74">δ<tspan font-size="28" stroke-width="0.5" dy="-24">13</tspan><tspan dy="24">C (<tspan stroke-width="0.8">‰</tspan>)</tspan></text>
<text transform="translate(2052.8 1527.5) rotate(90)" font-size="46.8" stroke-width="1.8" letter-spacing="4.30">pH</text>
<text transform="translate(2069.5 1868.8) rotate(90)" font-size="46.8" stroke-width="1.8" letter-spacing="3.33">Satellite SST (°C)</text>
</g>
</svg>
</body></html>
